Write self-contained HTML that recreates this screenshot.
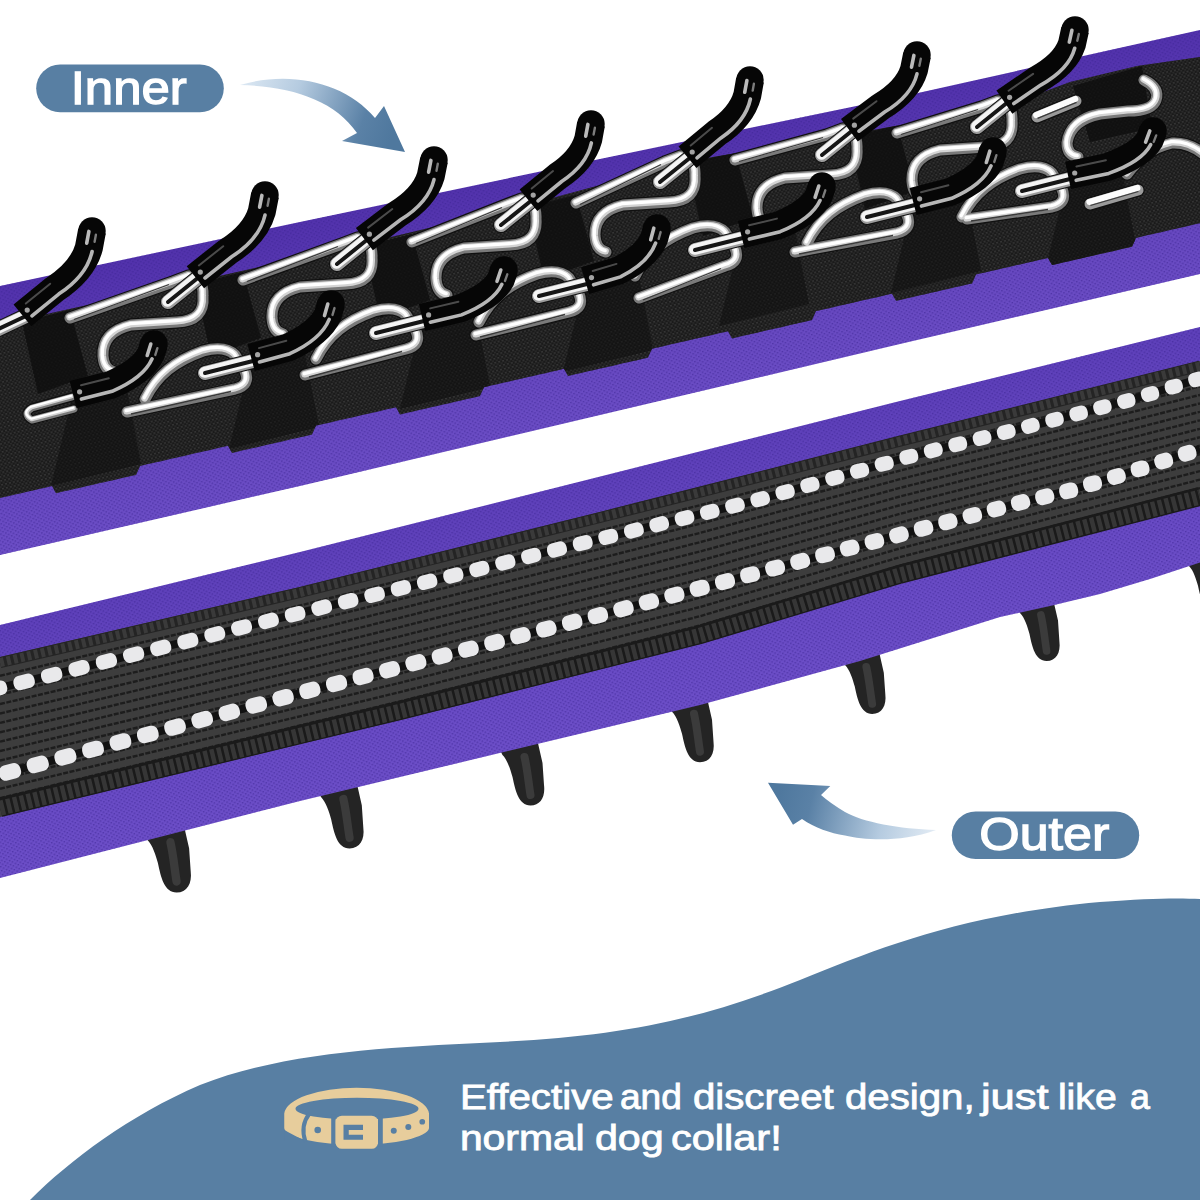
<!DOCTYPE html>
<html><head><meta charset="utf-8"><title>Collar</title>
<style>html,body{margin:0;padding:0;background:#fff;}body{width:1200px;height:1200px;overflow:hidden;}svg{display:block;font-family:"Liberation Sans",sans-serif;}</style>
</head><body>
<svg width="1200" height="1200" viewBox="0 0 1200 1200">
<defs>
<linearGradient id="purpU" gradientUnits="userSpaceOnUse" x1="600" y1="158" x2="656" y2="418"><stop offset="0" stop-color="#5232ac"/><stop offset="0.25" stop-color="#5a3ab4"/><stop offset="0.7" stop-color="#6748c0"/><stop offset="1" stop-color="#6c4ec6"/></linearGradient>
<linearGradient id="purpL" gradientUnits="userSpaceOnUse" x1="600" y1="476" x2="662" y2="729"><stop offset="0" stop-color="#5e40ba"/><stop offset="0.2" stop-color="#6345be"/><stop offset="0.75" stop-color="#6a4cc6"/><stop offset="1" stop-color="#6d4fc8"/></linearGradient>
<pattern id="knit" width="5" height="4" patternUnits="userSpaceOnUse" patternTransform="rotate(-13)"><rect x="0" y="0" width="1.6" height="1.4" fill="#3b2390" opacity="0.55"/><rect x="2.5" y="2" width="1.6" height="1.4" fill="#3b2390" opacity="0.55"/></pattern>
<pattern id="speck" width="4" height="4" patternUnits="userSpaceOnUse" patternTransform="rotate(-13)"><rect x="0" y="0" width="2" height="1.6" fill="#3c3c3c" opacity="0.8"/><rect x="2" y="2" width="2" height="1.6" fill="#303030" opacity="0.8"/></pattern>
<linearGradient id="ar1" gradientUnits="userSpaceOnUse" x1="240" y1="85" x2="390" y2="140"><stop offset="0" stop-color="#dce8f3"/><stop offset="0.35" stop-color="#b5cbe0"/><stop offset="0.8" stop-color="#5a81a6"/><stop offset="1" stop-color="#4f789e"/></linearGradient>
<linearGradient id="ar2" gradientUnits="userSpaceOnUse" x1="940" y1="830" x2="780" y2="790"><stop offset="0" stop-color="#e6eef6"/><stop offset="0.35" stop-color="#b5cbe0"/><stop offset="0.8" stop-color="#5a81a6"/><stop offset="1" stop-color="#4f789e"/></linearGradient>
<clipPath id="ubclip"><polygon points="-20.0,328.0 24.0,319.0 197.0,281.0 366.0,243.0 530.0,204.0 689.0,161.0 851.0,134.0 1006.0,106.0 1070.0,82.0 1137.0,66.0 1200.0,57.0 1200.0,223.2 1196.0,224.1 1192.0,225.0 1188.0,225.9 1184.0,226.9 1180.0,227.8 1176.0,228.7 1172.0,229.6 1168.0,230.5 1164.0,231.4 1160.0,232.4 1156.0,233.3 1152.0,234.2 1148.0,235.1 1144.0,236.0 1140.0,236.9 1136.0,237.9 1132.0,246.8 1128.0,247.7 1124.0,248.6 1120.0,249.5 1116.0,250.4 1112.0,251.4 1108.0,252.3 1104.0,253.2 1100.0,254.1 1096.0,255.0 1092.0,255.9 1088.0,256.8 1084.0,257.8 1080.0,258.7 1076.0,259.6 1072.0,260.5 1068.0,261.4 1064.0,262.3 1060.0,263.3 1056.0,264.2 1052.0,265.1 1048.0,258.0 1044.0,258.9 1040.0,259.8 1036.0,260.8 1032.0,261.7 1028.0,262.6 1024.0,263.5 1020.0,264.4 1016.0,265.3 1012.0,266.3 1008.0,267.2 1004.0,268.1 1000.0,269.0 996.0,269.9 992.0,270.8 988.0,271.7 984.0,272.7 980.0,273.6 976.0,274.5 972.0,283.4 968.0,284.3 964.0,285.2 960.0,286.2 956.0,287.1 952.0,288.0 948.0,288.9 944.0,289.8 940.0,290.7 936.0,291.7 932.0,292.6 928.0,293.5 924.0,294.4 920.0,295.3 916.0,296.2 912.0,297.2 908.0,298.1 904.0,299.0 900.0,299.9 896.0,300.8 892.0,293.7 888.0,294.6 884.0,295.6 880.0,296.5 876.0,297.4 872.0,298.3 868.0,299.2 864.0,300.1 860.0,301.1 856.0,302.0 852.0,302.9 848.0,303.8 844.0,304.7 840.0,305.6 836.0,306.6 832.0,307.5 828.0,308.4 824.0,309.3 820.0,310.2 816.0,311.1 812.0,320.1 808.0,321.0 804.0,321.9 800.0,322.8 796.0,323.7 792.0,324.6 788.0,325.5 784.0,326.5 780.0,327.4 776.0,328.3 772.0,329.2 768.0,330.1 764.0,331.0 760.0,332.0 756.0,332.9 752.0,333.8 748.0,334.7 744.0,335.6 740.0,336.5 736.0,337.5 732.0,338.4 728.0,331.3 724.0,332.2 720.0,333.1 716.0,334.0 712.0,335.0 708.0,335.9 704.0,336.8 700.0,337.7 696.0,338.6 692.0,339.5 688.0,340.4 684.0,341.4 680.0,342.3 676.0,343.2 672.0,344.1 668.0,345.0 664.0,345.9 660.0,346.9 656.0,347.8 652.0,348.7 648.0,357.6 644.0,358.5 640.0,359.4 636.0,360.4 632.0,361.3 628.0,362.2 624.0,363.1 620.0,364.0 616.0,364.9 612.0,365.9 608.0,366.8 604.0,367.7 600.0,368.6 596.0,369.5 592.0,370.4 588.0,371.3 584.0,372.3 580.0,373.2 576.0,374.1 572.0,375.0 568.0,375.9 564.0,368.8 560.0,369.8 556.0,370.7 552.0,371.6 548.0,372.5 544.0,373.4 540.0,374.3 536.0,375.3 532.0,376.2 528.0,377.1 524.0,378.0 520.0,378.9 516.0,379.8 512.0,380.8 508.0,381.7 504.0,382.6 500.0,383.5 496.0,384.4 492.0,385.3 488.0,386.2 484.0,387.2 480.0,396.1 476.0,397.0 472.0,397.9 468.0,398.8 464.0,399.7 460.0,400.7 456.0,401.6 452.0,402.5 448.0,403.4 444.0,404.3 440.0,405.2 436.0,406.2 432.0,407.1 428.0,408.0 424.0,408.9 420.0,409.8 416.0,410.7 412.0,411.7 408.0,412.6 404.0,413.5 400.0,414.4 396.0,407.3 392.0,408.2 388.0,409.1 384.0,410.1 380.0,411.0 376.0,411.9 372.0,412.8 368.0,413.7 364.0,414.6 360.0,415.6 356.0,416.5 352.0,417.4 348.0,418.3 344.0,419.2 340.0,420.1 336.0,421.1 332.0,422.0 328.0,422.9 324.0,423.8 320.0,424.7 316.0,425.6 312.0,434.6 308.0,435.5 304.0,436.4 300.0,437.3 296.0,438.2 292.0,439.1 288.0,440.0 284.0,441.0 280.0,441.9 276.0,442.8 272.0,443.7 268.0,444.6 264.0,445.5 260.0,446.5 256.0,447.4 252.0,448.3 248.0,449.2 244.0,450.1 240.0,451.0 236.0,452.0 232.0,452.9 228.0,445.8 224.0,446.7 220.0,447.6 216.0,448.5 212.0,449.5 208.0,450.4 204.0,451.3 200.0,452.2 196.0,453.1 192.0,454.0 188.0,454.9 184.0,455.9 180.0,456.8 176.0,457.7 172.0,458.6 168.0,459.5 164.0,460.4 160.0,461.4 156.0,462.3 152.0,463.2 148.0,464.1 144.0,465.0 140.0,465.9 136.0,474.9 132.0,475.8 128.0,476.7 124.0,477.6 120.0,478.5 116.0,479.4 112.0,480.4 108.0,481.3 104.0,482.2 100.0,483.1 96.0,484.0 92.0,484.9 88.0,485.8 84.0,486.8 80.0,487.7 76.0,488.6 72.0,489.5 68.0,490.4 64.0,491.3 60.0,492.3 56.0,493.2 52.0,486.1 48.0,487.0 44.0,487.9 40.0,488.8 36.0,489.8 32.0,490.7 28.0,491.6 24.0,492.5 20.0,493.4 16.0,494.3 12.0,495.3 8.0,496.2 4.0,497.1 0.0,498.0"/></clipPath></defs>
<rect width="1200" height="1200" fill="#fff"/>
<path d="M30,1200 C70,1160 130,1115 200,1085 C290,1050 400,1047 500,1042 C620,1036 700,1020 800,980 C880,948 960,915 1100,902 C1150,898 1180,898 1200,899 L1200,1200 Z" fill="#587fa3"/>
<path d="M144.4,833.8 L147.5,840.0 C152.7,845.2 155.8,855.6 157.9,862.9 C161.0,877.4 164.1,892.0 176.6,892.5 C187.0,892.5 192.2,883.7 190.7,871.2 L189.1,848.3 L183.9,825.4 Z" fill="#242424"/>
<path d="M170.4,842.1 C173.5,855.6 174.5,869.1 176.6,881.6" fill="none" stroke="#3b3b3b" stroke-width="8.3" stroke-linecap="round"/>
<path d="M317.9,790.9 L321.0,797.0 C326.1,802.1 329.2,812.3 331.2,819.4 C334.3,833.7 337.3,848.0 349.6,848.5 C359.8,848.5 364.9,839.8 363.3,827.6 L361.8,805.2 L356.7,782.7 Z" fill="#242424"/>
<path d="M343.4,799.0 C346.5,812.3 347.5,825.6 349.6,837.8" fill="none" stroke="#3b3b3b" stroke-width="8.2" stroke-linecap="round"/>
<path d="M499.5,749.0 L502.5,755.0 C507.5,760.0 510.5,770.0 512.5,777.0 C515.5,791.0 518.5,805.0 530.5,805.5 C540.5,805.5 545.5,797.0 544.0,785.0 L542.5,763.0 L537.5,741.0 Z" fill="#242424"/>
<path d="M524.5,757.0 C527.5,770.0 528.5,783.0 530.5,795.0" fill="none" stroke="#3b3b3b" stroke-width="8.0" stroke-linecap="round"/>
<path d="M669.0,705.7 L672.0,711.7 C677.0,716.7 680.0,726.7 682.0,733.7 C685.0,747.7 688.0,761.7 700.0,762.2 C710.0,762.2 715.0,753.7 713.5,741.7 L712.0,719.7 L707.0,697.7 Z" fill="#242424"/>
<path d="M694.0,713.7 C697.0,726.7 698.0,739.7 700.0,751.7" fill="none" stroke="#3b3b3b" stroke-width="8.0" stroke-linecap="round"/>
<path d="M842.1,659.2 L845.0,665.0 C849.9,669.9 852.8,679.5 854.7,686.3 C857.6,699.9 860.5,713.5 872.2,714.0 C881.9,714.0 886.7,705.7 885.3,694.1 L883.8,672.8 L879.0,651.4 Z" fill="#242424"/>
<path d="M866.3,666.9 C869.2,679.5 870.2,692.2 872.2,703.8" fill="none" stroke="#3b3b3b" stroke-width="7.8" stroke-linecap="round"/>
<path d="M1017.1,607.3 L1020.0,613.0 C1024.8,617.8 1027.6,627.2 1029.5,633.9 C1032.3,647.2 1035.2,660.5 1046.6,661.0 C1056.1,661.0 1060.8,652.9 1059.4,641.5 L1058.0,620.6 L1053.2,599.7 Z" fill="#242424"/>
<path d="M1040.9,614.9 C1043.8,627.2 1044.7,639.6 1046.6,651.0" fill="none" stroke="#3b3b3b" stroke-width="7.6" stroke-linecap="round"/>
<path d="M1186.3,560.6 L1189.0,566.0 C1193.5,570.5 1196.2,579.5 1198.0,585.8 C1200.7,598.4 1203.4,611.0 1214.2,611.5 C1223.2,611.5 1227.7,603.8 1226.3,593.0 L1225.0,573.2 L1220.5,553.4 Z" fill="#242424"/>
<path d="M1208.8,567.8 C1211.5,579.5 1212.4,591.2 1214.2,602.0" fill="none" stroke="#3b3b3b" stroke-width="7.2" stroke-linecap="round"/>
<polygon points="0.0,625.0 300.0,552.0 507.0,500.0 900.0,401.0 1200.0,327.0 1200.0,562.5 1150.0,579.0 1100.0,594.0 1050.0,606.0 1000.0,617.0 860.0,661.0 700.0,705.0 400.0,777.0 300.0,801.0 0.0,878.0" fill="url(#purpL)"/>
<polygon points="0.0,625.0 300.0,552.0 507.0,500.0 900.0,401.0 1200.0,327.0 1200.0,562.5 1150.0,579.0 1100.0,594.0 1050.0,606.0 1000.0,617.0 860.0,661.0 700.0,705.0 400.0,777.0 300.0,801.0 0.0,878.0" fill="url(#knit)"/>
<polygon points="0.0,657.0 300.0,587.0 600.0,512.0 900.0,436.0 1200.0,361.0 1200.0,505.0 900.0,583.0 700.0,644.0 400.0,720.0 300.0,744.0 0.0,817.0" fill="#3d3d3d"/>
<polyline points="0.0,675.8 300.0,605.5 400.0,580.6 600.0,530.5 700.0,505.2 900.0,453.3 1200.0,377.9" fill="none" stroke="#1d1d1d" stroke-width="2.4" stroke-dasharray="5 1.5"/>
<polyline points="0.0,685.2 300.0,614.7 400.0,589.9 600.0,539.8 700.0,514.4 900.0,461.9 1200.0,386.4" fill="none" stroke="#1d1d1d" stroke-width="2.4" stroke-dasharray="5 1.5"/>
<polyline points="0.0,694.6 300.0,623.9 400.0,599.2 600.0,549.0 700.0,523.7 900.0,470.6 1200.0,394.9" fill="none" stroke="#1d1d1d" stroke-width="2.4" stroke-dasharray="5 1.5"/>
<polyline points="0.0,704.1 300.0,633.2 400.0,608.5 600.0,558.3 700.0,532.9 900.0,479.2 1200.0,403.4" fill="none" stroke="#1d1d1d" stroke-width="2.4" stroke-dasharray="5 1.5"/>
<polyline points="0.0,713.5 300.0,642.4 400.0,617.8 600.0,567.5 700.0,542.2 900.0,487.9 1200.0,411.8" fill="none" stroke="#1d1d1d" stroke-width="2.4" stroke-dasharray="5 1.5"/>
<polyline points="0.0,722.9 300.0,651.6 400.0,627.1 600.0,576.8 700.0,551.5 900.0,496.5 1200.0,420.3" fill="none" stroke="#1d1d1d" stroke-width="2.4" stroke-dasharray="5 1.5"/>
<polyline points="0.0,732.3 300.0,660.9 400.0,636.4 600.0,586.0 700.0,560.7 900.0,505.2 1200.0,428.8" fill="none" stroke="#1d1d1d" stroke-width="2.4" stroke-dasharray="5 1.5"/>
<polyline points="0.0,741.7 300.0,670.1 400.0,645.6 600.0,595.3 700.0,570.0 900.0,513.8 1200.0,437.2" fill="none" stroke="#1d1d1d" stroke-width="2.4" stroke-dasharray="5 1.5"/>
<polyline points="0.0,751.1 300.0,679.4 400.0,654.9 600.0,604.5 700.0,579.2 900.0,522.5 1200.0,445.7" fill="none" stroke="#1d1d1d" stroke-width="2.4" stroke-dasharray="5 1.5"/>
<polyline points="0.0,760.5 300.0,688.6 400.0,664.2 600.0,613.8 700.0,588.5 900.0,531.1 1200.0,454.2" fill="none" stroke="#1d1d1d" stroke-width="2.4" stroke-dasharray="5 1.5"/>
<polyline points="0.0,769.9 300.0,697.8 400.0,673.5 600.0,623.1 700.0,597.7 900.0,539.8 1200.0,462.6" fill="none" stroke="#1d1d1d" stroke-width="2.4" stroke-dasharray="5 1.5"/>
<polyline points="0.0,779.4 300.0,707.1 400.0,682.8 600.0,632.3 700.0,607.0 900.0,548.4 1200.0,471.1" fill="none" stroke="#1d1d1d" stroke-width="2.4" stroke-dasharray="5 1.5"/>
<polyline points="0.0,788.8 300.0,716.3 400.0,692.1 600.0,641.6 700.0,616.2 900.0,557.1 1200.0,479.6" fill="none" stroke="#1d1d1d" stroke-width="2.4" stroke-dasharray="5 1.5"/>
<polyline points="0.0,798.2 300.0,725.5 400.0,701.4 600.0,650.8 700.0,625.5 900.0,565.7 1200.0,488.1" fill="none" stroke="#1d1d1d" stroke-width="2.4" stroke-dasharray="5 1.5"/>
<polyline points="0.0,662.6 300.0,592.5 400.0,567.5 600.0,517.5 700.0,492.2 900.0,441.1 1200.0,366.0" fill="none" stroke="#242424" stroke-width="11"/>
<polyline points="0.0,662.6 300.0,592.5 400.0,567.5 600.0,517.5 700.0,492.2 900.0,441.1 1200.0,366.0" fill="none" stroke="#3a3a3a" stroke-width="9" stroke-dasharray="4 3"/>
<polyline points="0.0,807.4 300.0,734.6 400.0,710.5 600.0,659.9 700.0,634.6 900.0,574.2 1200.0,496.4" fill="none" stroke="#1a1a1a" stroke-width="19"/>
<polyline points="0.0,808.2 300.0,735.4 400.0,711.3 600.0,660.7 700.0,635.3 900.0,574.9 1200.0,497.1" fill="none" stroke="#363636" stroke-width="15" stroke-dasharray="4.5 2.5"/>
<polyline points="-4.0,689.0 24.0,682.0 300.0,613.0 455.0,575.0 579.0,544.0 750.0,502.0 915.0,455.0 1034.0,425.0 1132.0,399.5 1200.0,378.5" fill="none" stroke="#121212" stroke-width="8"/>
<polyline points="10.0,772.0 315.0,689.0 600.0,615.0 921.0,529.0 1019.0,503.0 1068.0,491.0 1118.0,476.0 1167.0,460.0 1200.0,449.0" fill="none" stroke="#121212" stroke-width="8"/>
<rect x="-14.3" y="681.6" width="21.5" height="14.5" rx="6.1" fill="#e9e9eb" transform="rotate(-14.5 -3.5 688.9)"/>
<rect x="13.4" y="674.7" width="21.4" height="14.5" rx="6.1" fill="#e9e9eb" transform="rotate(-14.5 24.1 682.0)"/>
<rect x="41.0" y="667.8" width="21.3" height="14.5" rx="6.1" fill="#e9e9eb" transform="rotate(-14.5 51.6 675.1)"/>
<rect x="68.4" y="661.0" width="21.3" height="14.5" rx="6.1" fill="#e9e9eb" transform="rotate(-14.5 79.1 668.2)"/>
<rect x="95.8" y="654.2" width="21.2" height="14.5" rx="6.1" fill="#e9e9eb" transform="rotate(-14.5 106.4 661.4)"/>
<rect x="123.1" y="647.3" width="21.1" height="14.5" rx="6.1" fill="#e9e9eb" transform="rotate(-14.5 133.6 654.6)"/>
<rect x="150.2" y="640.6" width="21.0" height="14.5" rx="6.1" fill="#e9e9eb" transform="rotate(-14.5 160.8 647.8)"/>
<rect x="177.3" y="633.8" width="21.0" height="14.5" rx="6.1" fill="#e9e9eb" transform="rotate(-14.5 187.8 641.0)"/>
<rect x="204.3" y="627.1" width="20.9" height="14.5" rx="6.1" fill="#e9e9eb" transform="rotate(-14.5 214.8 634.3)"/>
<rect x="231.2" y="620.3" width="20.8" height="14.5" rx="6.1" fill="#e9e9eb" transform="rotate(-14.5 241.6 627.6)"/>
<rect x="258.1" y="613.6" width="20.7" height="14.5" rx="6.1" fill="#e9e9eb" transform="rotate(-14.5 268.4 620.9)"/>
<rect x="284.8" y="607.0" width="20.6" height="14.5" rx="6.1" fill="#e9e9eb" transform="rotate(-14.5 295.1 614.2)"/>
<rect x="311.4" y="600.4" width="20.6" height="14.5" rx="6.1" fill="#e9e9eb" transform="rotate(-14.5 321.7 607.7)"/>
<rect x="337.9" y="593.9" width="20.5" height="14.5" rx="6.1" fill="#e9e9eb" transform="rotate(-14.5 348.2 601.2)"/>
<rect x="364.4" y="587.5" width="20.4" height="14.5" rx="6.1" fill="#e9e9eb" transform="rotate(-14.5 374.6 594.7)"/>
<rect x="390.8" y="581.0" width="20.3" height="14.5" rx="6.1" fill="#e9e9eb" transform="rotate(-14.5 400.9 588.3)"/>
<rect x="417.0" y="574.6" width="20.3" height="14.5" rx="6.1" fill="#e9e9eb" transform="rotate(-14.5 427.1 581.8)"/>
<rect x="443.2" y="568.2" width="20.2" height="14.5" rx="6.1" fill="#e9e9eb" transform="rotate(-14.5 453.3 575.4)"/>
<rect x="469.3" y="561.7" width="20.1" height="14.5" rx="6.1" fill="#e9e9eb" transform="rotate(-14.5 479.3 568.9)"/>
<rect x="495.3" y="555.2" width="20.0" height="14.5" rx="6.1" fill="#e9e9eb" transform="rotate(-14.5 505.3 562.4)"/>
<rect x="521.2" y="548.7" width="20.0" height="14.5" rx="6.1" fill="#e9e9eb" transform="rotate(-14.5 531.2 556.0)"/>
<rect x="547.0" y="542.3" width="19.9" height="14.5" rx="6.1" fill="#e9e9eb" transform="rotate(-14.5 557.0 549.5)"/>
<rect x="572.8" y="535.9" width="19.8" height="14.5" rx="6.1" fill="#e9e9eb" transform="rotate(-14.5 582.7 543.1)"/>
<rect x="598.4" y="529.6" width="19.7" height="14.5" rx="6.1" fill="#e9e9eb" transform="rotate(-14.5 608.3 536.8)"/>
<rect x="624.0" y="523.3" width="19.7" height="14.5" rx="6.1" fill="#e9e9eb" transform="rotate(-14.5 633.8 530.5)"/>
<rect x="649.4" y="517.0" width="19.6" height="14.5" rx="6.1" fill="#e9e9eb" transform="rotate(-14.5 659.2 524.3)"/>
<rect x="674.8" y="510.8" width="19.5" height="14.5" rx="6.1" fill="#e9e9eb" transform="rotate(-14.5 684.6 518.1)"/>
<rect x="700.1" y="504.6" width="19.4" height="14.5" rx="6.1" fill="#e9e9eb" transform="rotate(-14.5 709.8 511.9)"/>
<rect x="725.3" y="498.4" width="19.4" height="14.5" rx="6.1" fill="#e9e9eb" transform="rotate(-14.5 735.0 505.7)"/>
<rect x="750.5" y="491.9" width="19.3" height="14.5" rx="6.1" fill="#e9e9eb" transform="rotate(-14.5 760.1 499.1)"/>
<rect x="775.5" y="484.8" width="19.2" height="14.5" rx="6.1" fill="#e9e9eb" transform="rotate(-14.5 785.1 492.0)"/>
<rect x="800.4" y="477.7" width="19.1" height="14.5" rx="6.1" fill="#e9e9eb" transform="rotate(-14.5 810.0 484.9)"/>
<rect x="825.3" y="470.6" width="19.1" height="14.5" rx="6.1" fill="#e9e9eb" transform="rotate(-14.5 834.8 477.8)"/>
<rect x="850.1" y="463.5" width="19.0" height="14.5" rx="6.1" fill="#e9e9eb" transform="rotate(-14.5 859.6 470.8)"/>
<rect x="874.8" y="456.5" width="18.9" height="14.5" rx="6.1" fill="#e9e9eb" transform="rotate(-14.5 884.3 463.8)"/>
<rect x="899.4" y="449.5" width="18.8" height="14.5" rx="6.1" fill="#e9e9eb" transform="rotate(-14.5 908.8 456.8)"/>
<rect x="923.9" y="443.1" width="18.8" height="14.5" rx="6.1" fill="#e9e9eb" transform="rotate(-14.5 933.3 450.4)"/>
<rect x="948.4" y="437.0" width="18.7" height="14.5" rx="6.1" fill="#e9e9eb" transform="rotate(-14.5 957.7 444.2)"/>
<rect x="972.8" y="430.8" width="18.6" height="14.5" rx="6.1" fill="#e9e9eb" transform="rotate(-14.5 982.1 438.1)"/>
<rect x="997.0" y="424.7" width="18.6" height="14.5" rx="6.1" fill="#e9e9eb" transform="rotate(-14.5 1006.3 432.0)"/>
<rect x="1021.2" y="418.6" width="18.5" height="14.5" rx="6.1" fill="#e9e9eb" transform="rotate(-14.5 1030.5 425.9)"/>
<rect x="1045.3" y="412.4" width="18.4" height="14.5" rx="6.1" fill="#e9e9eb" transform="rotate(-14.5 1054.6 419.7)"/>
<rect x="1069.4" y="406.2" width="18.4" height="14.5" rx="6.1" fill="#e9e9eb" transform="rotate(-14.5 1078.6 413.4)"/>
<rect x="1093.3" y="399.9" width="18.3" height="14.5" rx="6.1" fill="#e9e9eb" transform="rotate(-14.5 1102.5 407.2)"/>
<rect x="1117.2" y="393.7" width="18.2" height="14.5" rx="6.1" fill="#e9e9eb" transform="rotate(-14.5 1126.3 401.0)"/>
<rect x="1141.0" y="386.7" width="18.1" height="14.5" rx="6.1" fill="#e9e9eb" transform="rotate(-14.5 1150.1 393.9)"/>
<rect x="1164.7" y="379.4" width="18.1" height="14.5" rx="6.1" fill="#e9e9eb" transform="rotate(-14.5 1173.7 386.6)"/>
<rect x="1188.3" y="372.1" width="18.0" height="14.5" rx="6.1" fill="#e9e9eb" transform="rotate(-14.5 1197.3 379.3)"/>
<rect x="-1.0" y="764.2" width="22.0" height="15.5" rx="6.5" fill="#e9e9eb" transform="rotate(-14.5 10.0 772.0)"/>
<rect x="26.8" y="756.7" width="21.9" height="15.5" rx="6.5" fill="#e9e9eb" transform="rotate(-14.5 37.8 764.4)"/>
<rect x="54.5" y="749.2" width="21.8" height="15.5" rx="6.5" fill="#e9e9eb" transform="rotate(-14.5 65.4 756.9)"/>
<rect x="82.1" y="741.7" width="21.7" height="15.5" rx="6.5" fill="#e9e9eb" transform="rotate(-14.5 93.0 749.4)"/>
<rect x="109.6" y="734.2" width="21.6" height="15.5" rx="6.5" fill="#e9e9eb" transform="rotate(-14.5 120.4 741.9)"/>
<rect x="137.0" y="726.7" width="21.6" height="15.5" rx="6.5" fill="#e9e9eb" transform="rotate(-14.5 147.8 734.5)"/>
<rect x="164.3" y="719.3" width="21.5" height="15.5" rx="6.5" fill="#e9e9eb" transform="rotate(-14.5 175.1 727.1)"/>
<rect x="191.5" y="711.9" width="21.4" height="15.5" rx="6.5" fill="#e9e9eb" transform="rotate(-14.5 202.2 719.7)"/>
<rect x="218.6" y="704.6" width="21.3" height="15.5" rx="6.5" fill="#e9e9eb" transform="rotate(-14.5 229.3 712.3)"/>
<rect x="245.6" y="697.2" width="21.3" height="15.5" rx="6.5" fill="#e9e9eb" transform="rotate(-14.5 256.2 705.0)"/>
<rect x="272.5" y="689.9" width="21.2" height="15.5" rx="6.5" fill="#e9e9eb" transform="rotate(-14.5 283.1 697.7)"/>
<rect x="299.3" y="682.6" width="21.1" height="15.5" rx="6.5" fill="#e9e9eb" transform="rotate(-14.5 309.9 690.4)"/>
<rect x="326.0" y="675.7" width="21.0" height="15.5" rx="6.5" fill="#e9e9eb" transform="rotate(-14.5 336.5 683.4)"/>
<rect x="352.6" y="668.8" width="20.9" height="15.5" rx="6.5" fill="#e9e9eb" transform="rotate(-14.5 363.1 676.5)"/>
<rect x="379.1" y="661.9" width="20.9" height="15.5" rx="6.5" fill="#e9e9eb" transform="rotate(-14.5 389.6 669.6)"/>
<rect x="405.5" y="655.0" width="20.8" height="15.5" rx="6.5" fill="#e9e9eb" transform="rotate(-14.5 415.9 662.8)"/>
<rect x="431.8" y="648.2" width="20.7" height="15.5" rx="6.5" fill="#e9e9eb" transform="rotate(-14.5 442.2 656.0)"/>
<rect x="458.1" y="641.4" width="20.6" height="15.5" rx="6.5" fill="#e9e9eb" transform="rotate(-14.5 468.4 649.2)"/>
<rect x="484.2" y="634.7" width="20.6" height="15.5" rx="6.5" fill="#e9e9eb" transform="rotate(-14.5 494.5 642.4)"/>
<rect x="510.2" y="627.9" width="20.5" height="15.5" rx="6.5" fill="#e9e9eb" transform="rotate(-14.5 520.5 635.7)"/>
<rect x="536.1" y="621.2" width="20.4" height="15.5" rx="6.5" fill="#e9e9eb" transform="rotate(-14.5 546.3 628.9)"/>
<rect x="562.0" y="614.5" width="20.3" height="15.5" rx="6.5" fill="#e9e9eb" transform="rotate(-14.5 572.1 622.2)"/>
<rect x="587.7" y="607.8" width="20.3" height="15.5" rx="6.5" fill="#e9e9eb" transform="rotate(-14.5 597.8 615.6)"/>
<rect x="613.4" y="601.0" width="20.2" height="15.5" rx="6.5" fill="#e9e9eb" transform="rotate(-14.5 623.5 608.7)"/>
<rect x="638.9" y="594.1" width="20.1" height="15.5" rx="6.5" fill="#e9e9eb" transform="rotate(-14.5 649.0 601.9)"/>
<rect x="664.4" y="587.3" width="20.0" height="15.5" rx="6.5" fill="#e9e9eb" transform="rotate(-14.5 674.4 595.1)"/>
<rect x="689.7" y="580.5" width="20.0" height="15.5" rx="6.5" fill="#e9e9eb" transform="rotate(-14.5 699.7 588.3)"/>
<rect x="715.0" y="573.8" width="19.9" height="15.5" rx="6.5" fill="#e9e9eb" transform="rotate(-14.5 724.9 581.5)"/>
<rect x="740.2" y="567.0" width="19.8" height="15.5" rx="6.5" fill="#e9e9eb" transform="rotate(-14.5 750.1 574.8)"/>
<rect x="765.3" y="560.3" width="19.7" height="15.5" rx="6.5" fill="#e9e9eb" transform="rotate(-14.5 775.1 568.1)"/>
<rect x="790.3" y="553.6" width="19.7" height="15.5" rx="6.5" fill="#e9e9eb" transform="rotate(-14.5 800.1 561.4)"/>
<rect x="815.2" y="547.0" width="19.6" height="15.5" rx="6.5" fill="#e9e9eb" transform="rotate(-14.5 825.0 554.7)"/>
<rect x="840.0" y="540.3" width="19.5" height="15.5" rx="6.5" fill="#e9e9eb" transform="rotate(-14.5 849.7 548.1)"/>
<rect x="864.7" y="533.7" width="19.4" height="15.5" rx="6.5" fill="#e9e9eb" transform="rotate(-14.5 874.4 541.5)"/>
<rect x="889.3" y="527.1" width="19.4" height="15.5" rx="6.5" fill="#e9e9eb" transform="rotate(-14.5 899.0 534.9)"/>
<rect x="913.9" y="520.6" width="19.3" height="15.5" rx="6.5" fill="#e9e9eb" transform="rotate(-14.5 923.5 528.3)"/>
<rect x="938.3" y="514.1" width="19.2" height="15.5" rx="6.5" fill="#e9e9eb" transform="rotate(-14.5 947.9 521.9)"/>
<rect x="962.7" y="507.7" width="19.2" height="15.5" rx="6.5" fill="#e9e9eb" transform="rotate(-14.5 972.3 515.4)"/>
<rect x="986.9" y="501.2" width="19.1" height="15.5" rx="6.5" fill="#e9e9eb" transform="rotate(-14.5 996.5 509.0)"/>
<rect x="1011.1" y="494.8" width="19.0" height="15.5" rx="6.5" fill="#e9e9eb" transform="rotate(-14.5 1020.6 502.6)"/>
<rect x="1035.2" y="489.0" width="19.0" height="15.5" rx="6.5" fill="#e9e9eb" transform="rotate(-14.5 1044.7 496.7)"/>
<rect x="1059.2" y="483.1" width="18.9" height="15.5" rx="6.5" fill="#e9e9eb" transform="rotate(-14.5 1068.7 490.8)"/>
<rect x="1083.1" y="475.9" width="18.8" height="15.5" rx="6.5" fill="#e9e9eb" transform="rotate(-14.5 1092.5 483.6)"/>
<rect x="1107.0" y="468.7" width="18.7" height="15.5" rx="6.5" fill="#e9e9eb" transform="rotate(-14.5 1116.3 476.5)"/>
<rect x="1130.7" y="461.1" width="18.7" height="15.5" rx="6.5" fill="#e9e9eb" transform="rotate(-14.5 1140.0 468.8)"/>
<rect x="1154.4" y="453.3" width="18.6" height="15.5" rx="6.5" fill="#e9e9eb" transform="rotate(-14.5 1163.7 461.1)"/>
<rect x="1177.9" y="445.5" width="18.5" height="15.5" rx="6.5" fill="#e9e9eb" transform="rotate(-14.5 1187.2 453.3)"/>
<rect x="1201.4" y="437.7" width="18.5" height="15.5" rx="6.5" fill="#e9e9eb" transform="rotate(-14.5 1210.6 445.5)"/>
<polygon points="0.0,286.0 300.0,222.0 600.0,159.0 900.0,97.0 1200.0,30.0 1200.0,274.0 900.0,344.0 300.0,486.0 0.0,555.0" fill="url(#purpU)"/>
<polygon points="0.0,286.0 300.0,222.0 600.0,159.0 900.0,97.0 1200.0,30.0 1200.0,274.0 900.0,344.0 300.0,486.0 0.0,555.0" fill="url(#knit)"/>
<polygon points="-20.0,328.0 24.0,319.0 197.0,281.0 366.0,243.0 530.0,204.0 689.0,161.0 851.0,134.0 1006.0,106.0 1070.0,82.0 1137.0,66.0 1200.0,57.0 1200.0,223.2 1196.0,224.1 1192.0,225.0 1188.0,225.9 1184.0,226.9 1180.0,227.8 1176.0,228.7 1172.0,229.6 1168.0,230.5 1164.0,231.4 1160.0,232.4 1156.0,233.3 1152.0,234.2 1148.0,235.1 1144.0,236.0 1140.0,236.9 1136.0,237.9 1132.0,246.8 1128.0,247.7 1124.0,248.6 1120.0,249.5 1116.0,250.4 1112.0,251.4 1108.0,252.3 1104.0,253.2 1100.0,254.1 1096.0,255.0 1092.0,255.9 1088.0,256.8 1084.0,257.8 1080.0,258.7 1076.0,259.6 1072.0,260.5 1068.0,261.4 1064.0,262.3 1060.0,263.3 1056.0,264.2 1052.0,265.1 1048.0,258.0 1044.0,258.9 1040.0,259.8 1036.0,260.8 1032.0,261.7 1028.0,262.6 1024.0,263.5 1020.0,264.4 1016.0,265.3 1012.0,266.3 1008.0,267.2 1004.0,268.1 1000.0,269.0 996.0,269.9 992.0,270.8 988.0,271.7 984.0,272.7 980.0,273.6 976.0,274.5 972.0,283.4 968.0,284.3 964.0,285.2 960.0,286.2 956.0,287.1 952.0,288.0 948.0,288.9 944.0,289.8 940.0,290.7 936.0,291.7 932.0,292.6 928.0,293.5 924.0,294.4 920.0,295.3 916.0,296.2 912.0,297.2 908.0,298.1 904.0,299.0 900.0,299.9 896.0,300.8 892.0,293.7 888.0,294.6 884.0,295.6 880.0,296.5 876.0,297.4 872.0,298.3 868.0,299.2 864.0,300.1 860.0,301.1 856.0,302.0 852.0,302.9 848.0,303.8 844.0,304.7 840.0,305.6 836.0,306.6 832.0,307.5 828.0,308.4 824.0,309.3 820.0,310.2 816.0,311.1 812.0,320.1 808.0,321.0 804.0,321.9 800.0,322.8 796.0,323.7 792.0,324.6 788.0,325.5 784.0,326.5 780.0,327.4 776.0,328.3 772.0,329.2 768.0,330.1 764.0,331.0 760.0,332.0 756.0,332.9 752.0,333.8 748.0,334.7 744.0,335.6 740.0,336.5 736.0,337.5 732.0,338.4 728.0,331.3 724.0,332.2 720.0,333.1 716.0,334.0 712.0,335.0 708.0,335.9 704.0,336.8 700.0,337.7 696.0,338.6 692.0,339.5 688.0,340.4 684.0,341.4 680.0,342.3 676.0,343.2 672.0,344.1 668.0,345.0 664.0,345.9 660.0,346.9 656.0,347.8 652.0,348.7 648.0,357.6 644.0,358.5 640.0,359.4 636.0,360.4 632.0,361.3 628.0,362.2 624.0,363.1 620.0,364.0 616.0,364.9 612.0,365.9 608.0,366.8 604.0,367.7 600.0,368.6 596.0,369.5 592.0,370.4 588.0,371.3 584.0,372.3 580.0,373.2 576.0,374.1 572.0,375.0 568.0,375.9 564.0,368.8 560.0,369.8 556.0,370.7 552.0,371.6 548.0,372.5 544.0,373.4 540.0,374.3 536.0,375.3 532.0,376.2 528.0,377.1 524.0,378.0 520.0,378.9 516.0,379.8 512.0,380.8 508.0,381.7 504.0,382.6 500.0,383.5 496.0,384.4 492.0,385.3 488.0,386.2 484.0,387.2 480.0,396.1 476.0,397.0 472.0,397.9 468.0,398.8 464.0,399.7 460.0,400.7 456.0,401.6 452.0,402.5 448.0,403.4 444.0,404.3 440.0,405.2 436.0,406.2 432.0,407.1 428.0,408.0 424.0,408.9 420.0,409.8 416.0,410.7 412.0,411.7 408.0,412.6 404.0,413.5 400.0,414.4 396.0,407.3 392.0,408.2 388.0,409.1 384.0,410.1 380.0,411.0 376.0,411.9 372.0,412.8 368.0,413.7 364.0,414.6 360.0,415.6 356.0,416.5 352.0,417.4 348.0,418.3 344.0,419.2 340.0,420.1 336.0,421.1 332.0,422.0 328.0,422.9 324.0,423.8 320.0,424.7 316.0,425.6 312.0,434.6 308.0,435.5 304.0,436.4 300.0,437.3 296.0,438.2 292.0,439.1 288.0,440.0 284.0,441.0 280.0,441.9 276.0,442.8 272.0,443.7 268.0,444.6 264.0,445.5 260.0,446.5 256.0,447.4 252.0,448.3 248.0,449.2 244.0,450.1 240.0,451.0 236.0,452.0 232.0,452.9 228.0,445.8 224.0,446.7 220.0,447.6 216.0,448.5 212.0,449.5 208.0,450.4 204.0,451.3 200.0,452.2 196.0,453.1 192.0,454.0 188.0,454.9 184.0,455.9 180.0,456.8 176.0,457.7 172.0,458.6 168.0,459.5 164.0,460.4 160.0,461.4 156.0,462.3 152.0,463.2 148.0,464.1 144.0,465.0 140.0,465.9 136.0,474.9 132.0,475.8 128.0,476.7 124.0,477.6 120.0,478.5 116.0,479.4 112.0,480.4 108.0,481.3 104.0,482.2 100.0,483.1 96.0,484.0 92.0,484.9 88.0,485.8 84.0,486.8 80.0,487.7 76.0,488.6 72.0,489.5 68.0,490.4 64.0,491.3 60.0,492.3 56.0,493.2 52.0,486.1 48.0,487.0 44.0,487.9 40.0,488.8 36.0,489.8 32.0,490.7 28.0,491.6 24.0,492.5 20.0,493.4 16.0,494.3 12.0,495.3 8.0,496.2 4.0,497.1 0.0,498.0" fill="#1a1a1a"/>
<polygon points="-20.0,328.0 24.0,319.0 197.0,281.0 366.0,243.0 530.0,204.0 689.0,161.0 851.0,134.0 1006.0,106.0 1070.0,82.0 1137.0,66.0 1200.0,57.0 1200.0,223.2 1196.0,224.1 1192.0,225.0 1188.0,225.9 1184.0,226.9 1180.0,227.8 1176.0,228.7 1172.0,229.6 1168.0,230.5 1164.0,231.4 1160.0,232.4 1156.0,233.3 1152.0,234.2 1148.0,235.1 1144.0,236.0 1140.0,236.9 1136.0,237.9 1132.0,246.8 1128.0,247.7 1124.0,248.6 1120.0,249.5 1116.0,250.4 1112.0,251.4 1108.0,252.3 1104.0,253.2 1100.0,254.1 1096.0,255.0 1092.0,255.9 1088.0,256.8 1084.0,257.8 1080.0,258.7 1076.0,259.6 1072.0,260.5 1068.0,261.4 1064.0,262.3 1060.0,263.3 1056.0,264.2 1052.0,265.1 1048.0,258.0 1044.0,258.9 1040.0,259.8 1036.0,260.8 1032.0,261.7 1028.0,262.6 1024.0,263.5 1020.0,264.4 1016.0,265.3 1012.0,266.3 1008.0,267.2 1004.0,268.1 1000.0,269.0 996.0,269.9 992.0,270.8 988.0,271.7 984.0,272.7 980.0,273.6 976.0,274.5 972.0,283.4 968.0,284.3 964.0,285.2 960.0,286.2 956.0,287.1 952.0,288.0 948.0,288.9 944.0,289.8 940.0,290.7 936.0,291.7 932.0,292.6 928.0,293.5 924.0,294.4 920.0,295.3 916.0,296.2 912.0,297.2 908.0,298.1 904.0,299.0 900.0,299.9 896.0,300.8 892.0,293.7 888.0,294.6 884.0,295.6 880.0,296.5 876.0,297.4 872.0,298.3 868.0,299.2 864.0,300.1 860.0,301.1 856.0,302.0 852.0,302.9 848.0,303.8 844.0,304.7 840.0,305.6 836.0,306.6 832.0,307.5 828.0,308.4 824.0,309.3 820.0,310.2 816.0,311.1 812.0,320.1 808.0,321.0 804.0,321.9 800.0,322.8 796.0,323.7 792.0,324.6 788.0,325.5 784.0,326.5 780.0,327.4 776.0,328.3 772.0,329.2 768.0,330.1 764.0,331.0 760.0,332.0 756.0,332.9 752.0,333.8 748.0,334.7 744.0,335.6 740.0,336.5 736.0,337.5 732.0,338.4 728.0,331.3 724.0,332.2 720.0,333.1 716.0,334.0 712.0,335.0 708.0,335.9 704.0,336.8 700.0,337.7 696.0,338.6 692.0,339.5 688.0,340.4 684.0,341.4 680.0,342.3 676.0,343.2 672.0,344.1 668.0,345.0 664.0,345.9 660.0,346.9 656.0,347.8 652.0,348.7 648.0,357.6 644.0,358.5 640.0,359.4 636.0,360.4 632.0,361.3 628.0,362.2 624.0,363.1 620.0,364.0 616.0,364.9 612.0,365.9 608.0,366.8 604.0,367.7 600.0,368.6 596.0,369.5 592.0,370.4 588.0,371.3 584.0,372.3 580.0,373.2 576.0,374.1 572.0,375.0 568.0,375.9 564.0,368.8 560.0,369.8 556.0,370.7 552.0,371.6 548.0,372.5 544.0,373.4 540.0,374.3 536.0,375.3 532.0,376.2 528.0,377.1 524.0,378.0 520.0,378.9 516.0,379.8 512.0,380.8 508.0,381.7 504.0,382.6 500.0,383.5 496.0,384.4 492.0,385.3 488.0,386.2 484.0,387.2 480.0,396.1 476.0,397.0 472.0,397.9 468.0,398.8 464.0,399.7 460.0,400.7 456.0,401.6 452.0,402.5 448.0,403.4 444.0,404.3 440.0,405.2 436.0,406.2 432.0,407.1 428.0,408.0 424.0,408.9 420.0,409.8 416.0,410.7 412.0,411.7 408.0,412.6 404.0,413.5 400.0,414.4 396.0,407.3 392.0,408.2 388.0,409.1 384.0,410.1 380.0,411.0 376.0,411.9 372.0,412.8 368.0,413.7 364.0,414.6 360.0,415.6 356.0,416.5 352.0,417.4 348.0,418.3 344.0,419.2 340.0,420.1 336.0,421.1 332.0,422.0 328.0,422.9 324.0,423.8 320.0,424.7 316.0,425.6 312.0,434.6 308.0,435.5 304.0,436.4 300.0,437.3 296.0,438.2 292.0,439.1 288.0,440.0 284.0,441.0 280.0,441.9 276.0,442.8 272.0,443.7 268.0,444.6 264.0,445.5 260.0,446.5 256.0,447.4 252.0,448.3 248.0,449.2 244.0,450.1 240.0,451.0 236.0,452.0 232.0,452.9 228.0,445.8 224.0,446.7 220.0,447.6 216.0,448.5 212.0,449.5 208.0,450.4 204.0,451.3 200.0,452.2 196.0,453.1 192.0,454.0 188.0,454.9 184.0,455.9 180.0,456.8 176.0,457.7 172.0,458.6 168.0,459.5 164.0,460.4 160.0,461.4 156.0,462.3 152.0,463.2 148.0,464.1 144.0,465.0 140.0,465.9 136.0,474.9 132.0,475.8 128.0,476.7 124.0,477.6 120.0,478.5 116.0,479.4 112.0,480.4 108.0,481.3 104.0,482.2 100.0,483.1 96.0,484.0 92.0,484.9 88.0,485.8 84.0,486.8 80.0,487.7 76.0,488.6 72.0,489.5 68.0,490.4 64.0,491.3 60.0,492.3 56.0,493.2 52.0,486.1 48.0,487.0 44.0,487.9 40.0,488.8 36.0,489.8 32.0,490.7 28.0,491.6 24.0,492.5 20.0,493.4 16.0,494.3 12.0,495.3 8.0,496.2 4.0,497.1 0.0,498.0" fill="url(#speck)"/>
<g clip-path="url(#ubclip)">
<polygon points="22.0,322.0 70.0,310.0 88.0,376.0 38.0,394.0" fill="#0e0e0e" opacity="0.8"/>
<polygon points="195.0,284.0 243.0,272.0 261.0,338.0 211.0,356.0" fill="#0e0e0e" opacity="0.8"/>
<polygon points="364.0,246.0 412.0,234.0 430.0,300.0 380.0,318.0" fill="#0e0e0e" opacity="0.8"/>
<polygon points="528.0,207.0 576.0,195.0 594.0,261.0 544.0,279.0" fill="#0e0e0e" opacity="0.8"/>
<polygon points="687.0,164.0 735.0,152.0 753.0,218.0 703.0,236.0" fill="#0e0e0e" opacity="0.8"/>
<polygon points="849.0,137.0 897.0,125.0 915.0,191.0 865.0,209.0" fill="#0e0e0e" opacity="0.8"/>
<polygon points="1073.0,86.0 1142.0,66.0 1152.0,128.0 1090.0,142.0" fill="#0e0e0e" opacity="0.8"/>
<polygon points="71.0,402.0 127.0,390.0 141.0,464.0 51.0,486.0" fill="#0e0e0e" opacity="0.55"/>
<polygon points="249.0,365.0 305.0,353.0 319.0,427.0 229.0,449.0" fill="#0e0e0e" opacity="0.55"/>
<polygon points="420.0,325.0 476.0,313.0 490.0,387.0 400.0,409.0" fill="#0e0e0e" opacity="0.55"/>
<polygon points="583.0,288.0 639.0,276.0 653.0,350.0 563.0,372.0" fill="#0e0e0e" opacity="0.55"/>
<polygon points="739.0,242.0 795.0,230.0 809.0,304.0 719.0,326.0" fill="#0e0e0e" opacity="0.55"/>
<polygon points="911.0,209.0 967.0,197.0 981.0,271.0 891.0,293.0" fill="#0e0e0e" opacity="0.55"/>
<polygon points="1066.0,183.0 1122.0,171.0 1136.0,245.0 1046.0,267.0" fill="#0e0e0e" opacity="0.55"/>
</g>
<path d="M26.0,316.0 L-10.0,333.0" fill="none" stroke="#101010" stroke-width="16" stroke-linecap="round"/>
<path d="M26.0,316.0 L-10.0,333.0" fill="none" stroke="#9c9c9c" stroke-width="14" stroke-linecap="round"/>
<path d="M26.0,316.0 L-10.0,333.0" fill="none" stroke="#f4f4f4" stroke-width="11" stroke-linecap="round" transform="translate(-0.4,-0.7)"/>
<path d="M26.0,316.0 L-10.0,333.0" fill="none" stroke="#161616" stroke-width="4" stroke-linecap="round"/>
<path d="M70.0,318.0 L173.0,282.0 L189.0,276.0 Q204.0,278.0 203.0,296.0 Q205.0,321.0 177.0,322.0 L131.0,325.0 Q102.0,332.0 103.0,356.0 Q104.0,370.0 114.0,372.0" fill="none" stroke="#101010" stroke-width="13.4" stroke-linecap="round" stroke-linejoin="round"/>
<path d="M70.0,318.0 L173.0,282.0 L189.0,276.0 Q204.0,278.0 203.0,296.0 Q205.0,321.0 177.0,322.0 L131.0,325.0 Q102.0,332.0 103.0,356.0 Q104.0,370.0 114.0,372.0" fill="none" stroke="#7a7a7a" stroke-width="11" stroke-linecap="round" stroke-linejoin="round"/>
<path d="M70.0,318.0 L173.0,282.0 L189.0,276.0 Q204.0,278.0 203.0,296.0 Q205.0,321.0 177.0,322.0 L131.0,325.0 Q102.0,332.0 103.0,356.0 Q104.0,370.0 114.0,372.0" fill="none" stroke="#d4d4d4" stroke-width="6.6" stroke-linecap="round" stroke-linejoin="round" transform="translate(-0.4,-0.8)"/>
<path d="M70.0,318.0 L173.0,282.0 L189.0,276.0 Q204.0,278.0 203.0,296.0 Q205.0,321.0 177.0,322.0 L131.0,325.0 Q102.0,332.0 103.0,356.0 Q104.0,370.0 114.0,372.0" fill="none" stroke="#ffffff" stroke-width="3.3" stroke-linecap="round" stroke-linejoin="round" transform="translate(-0.8,-1.3)"/>
<line x1="74.0" y1="319.5" x2="169.0" y2="284.5" stroke="#3a3a3a" stroke-width="1.3"/>
<path d="M199.0,277.0 L168.0,302.0" fill="none" stroke="#101010" stroke-width="16" stroke-linecap="round"/>
<path d="M199.0,277.0 L168.0,302.0" fill="none" stroke="#9c9c9c" stroke-width="14" stroke-linecap="round"/>
<path d="M199.0,277.0 L168.0,302.0" fill="none" stroke="#f4f4f4" stroke-width="11" stroke-linecap="round" transform="translate(-0.4,-0.7)"/>
<path d="M199.0,277.0 L168.0,302.0" fill="none" stroke="#161616" stroke-width="4" stroke-linecap="round"/>
<path d="M243.0,280.0 L342.0,244.0 L358.0,238.0 Q373.0,240.0 372.0,258.0 Q374.0,283.0 346.0,284.0 L300.0,287.0 Q271.0,294.0 272.0,318.0 Q273.0,332.0 283.0,334.0" fill="none" stroke="#101010" stroke-width="13.4" stroke-linecap="round" stroke-linejoin="round"/>
<path d="M243.0,280.0 L342.0,244.0 L358.0,238.0 Q373.0,240.0 372.0,258.0 Q374.0,283.0 346.0,284.0 L300.0,287.0 Q271.0,294.0 272.0,318.0 Q273.0,332.0 283.0,334.0" fill="none" stroke="#7a7a7a" stroke-width="11" stroke-linecap="round" stroke-linejoin="round"/>
<path d="M243.0,280.0 L342.0,244.0 L358.0,238.0 Q373.0,240.0 372.0,258.0 Q374.0,283.0 346.0,284.0 L300.0,287.0 Q271.0,294.0 272.0,318.0 Q273.0,332.0 283.0,334.0" fill="none" stroke="#d4d4d4" stroke-width="6.6" stroke-linecap="round" stroke-linejoin="round" transform="translate(-0.4,-0.8)"/>
<path d="M243.0,280.0 L342.0,244.0 L358.0,238.0 Q373.0,240.0 372.0,258.0 Q374.0,283.0 346.0,284.0 L300.0,287.0 Q271.0,294.0 272.0,318.0 Q273.0,332.0 283.0,334.0" fill="none" stroke="#ffffff" stroke-width="3.3" stroke-linecap="round" stroke-linejoin="round" transform="translate(-0.8,-1.3)"/>
<line x1="247.0" y1="281.5" x2="338.0" y2="246.5" stroke="#3a3a3a" stroke-width="1.3"/>
<path d="M368.0,239.0 L337.0,264.0" fill="none" stroke="#101010" stroke-width="16" stroke-linecap="round"/>
<path d="M368.0,239.0 L337.0,264.0" fill="none" stroke="#9c9c9c" stroke-width="14" stroke-linecap="round"/>
<path d="M368.0,239.0 L337.0,264.0" fill="none" stroke="#f4f4f4" stroke-width="11" stroke-linecap="round" transform="translate(-0.4,-0.7)"/>
<path d="M368.0,239.0 L337.0,264.0" fill="none" stroke="#161616" stroke-width="4" stroke-linecap="round"/>
<path d="M412.0,242.0 L506.0,205.0 L522.0,199.0 Q537.0,201.0 536.0,219.0 Q538.0,244.0 510.0,245.0 L464.0,248.0 Q435.0,255.0 436.0,279.0 Q437.0,293.0 447.0,295.0" fill="none" stroke="#101010" stroke-width="13.4" stroke-linecap="round" stroke-linejoin="round"/>
<path d="M412.0,242.0 L506.0,205.0 L522.0,199.0 Q537.0,201.0 536.0,219.0 Q538.0,244.0 510.0,245.0 L464.0,248.0 Q435.0,255.0 436.0,279.0 Q437.0,293.0 447.0,295.0" fill="none" stroke="#7a7a7a" stroke-width="11" stroke-linecap="round" stroke-linejoin="round"/>
<path d="M412.0,242.0 L506.0,205.0 L522.0,199.0 Q537.0,201.0 536.0,219.0 Q538.0,244.0 510.0,245.0 L464.0,248.0 Q435.0,255.0 436.0,279.0 Q437.0,293.0 447.0,295.0" fill="none" stroke="#d4d4d4" stroke-width="6.6" stroke-linecap="round" stroke-linejoin="round" transform="translate(-0.4,-0.8)"/>
<path d="M412.0,242.0 L506.0,205.0 L522.0,199.0 Q537.0,201.0 536.0,219.0 Q538.0,244.0 510.0,245.0 L464.0,248.0 Q435.0,255.0 436.0,279.0 Q437.0,293.0 447.0,295.0" fill="none" stroke="#ffffff" stroke-width="3.3" stroke-linecap="round" stroke-linejoin="round" transform="translate(-0.8,-1.3)"/>
<line x1="416.0" y1="243.5" x2="502.0" y2="207.5" stroke="#3a3a3a" stroke-width="1.3"/>
<path d="M532.0,200.0 L501.0,225.0" fill="none" stroke="#101010" stroke-width="16" stroke-linecap="round"/>
<path d="M532.0,200.0 L501.0,225.0" fill="none" stroke="#9c9c9c" stroke-width="14" stroke-linecap="round"/>
<path d="M532.0,200.0 L501.0,225.0" fill="none" stroke="#f4f4f4" stroke-width="11" stroke-linecap="round" transform="translate(-0.4,-0.7)"/>
<path d="M532.0,200.0 L501.0,225.0" fill="none" stroke="#161616" stroke-width="4" stroke-linecap="round"/>
<path d="M576.0,203.0 L665.0,162.0 L681.0,156.0 Q696.0,158.0 695.0,176.0 Q697.0,201.0 669.0,202.0 L623.0,205.0 Q594.0,212.0 595.0,236.0 Q596.0,250.0 606.0,252.0" fill="none" stroke="#101010" stroke-width="13.4" stroke-linecap="round" stroke-linejoin="round"/>
<path d="M576.0,203.0 L665.0,162.0 L681.0,156.0 Q696.0,158.0 695.0,176.0 Q697.0,201.0 669.0,202.0 L623.0,205.0 Q594.0,212.0 595.0,236.0 Q596.0,250.0 606.0,252.0" fill="none" stroke="#7a7a7a" stroke-width="11" stroke-linecap="round" stroke-linejoin="round"/>
<path d="M576.0,203.0 L665.0,162.0 L681.0,156.0 Q696.0,158.0 695.0,176.0 Q697.0,201.0 669.0,202.0 L623.0,205.0 Q594.0,212.0 595.0,236.0 Q596.0,250.0 606.0,252.0" fill="none" stroke="#d4d4d4" stroke-width="6.6" stroke-linecap="round" stroke-linejoin="round" transform="translate(-0.4,-0.8)"/>
<path d="M576.0,203.0 L665.0,162.0 L681.0,156.0 Q696.0,158.0 695.0,176.0 Q697.0,201.0 669.0,202.0 L623.0,205.0 Q594.0,212.0 595.0,236.0 Q596.0,250.0 606.0,252.0" fill="none" stroke="#ffffff" stroke-width="3.3" stroke-linecap="round" stroke-linejoin="round" transform="translate(-0.8,-1.3)"/>
<line x1="580.0" y1="204.5" x2="661.0" y2="164.5" stroke="#3a3a3a" stroke-width="1.3"/>
<path d="M691.0,157.0 L660.0,182.0" fill="none" stroke="#101010" stroke-width="16" stroke-linecap="round"/>
<path d="M691.0,157.0 L660.0,182.0" fill="none" stroke="#9c9c9c" stroke-width="14" stroke-linecap="round"/>
<path d="M691.0,157.0 L660.0,182.0" fill="none" stroke="#f4f4f4" stroke-width="11" stroke-linecap="round" transform="translate(-0.4,-0.7)"/>
<path d="M691.0,157.0 L660.0,182.0" fill="none" stroke="#161616" stroke-width="4" stroke-linecap="round"/>
<path d="M735.0,160.0 L827.0,135.0 L843.0,129.0 Q858.0,131.0 857.0,149.0 Q859.0,174.0 831.0,175.0 L785.0,178.0 Q756.0,185.0 757.0,209.0 Q758.0,223.0 768.0,225.0" fill="none" stroke="#101010" stroke-width="13.4" stroke-linecap="round" stroke-linejoin="round"/>
<path d="M735.0,160.0 L827.0,135.0 L843.0,129.0 Q858.0,131.0 857.0,149.0 Q859.0,174.0 831.0,175.0 L785.0,178.0 Q756.0,185.0 757.0,209.0 Q758.0,223.0 768.0,225.0" fill="none" stroke="#7a7a7a" stroke-width="11" stroke-linecap="round" stroke-linejoin="round"/>
<path d="M735.0,160.0 L827.0,135.0 L843.0,129.0 Q858.0,131.0 857.0,149.0 Q859.0,174.0 831.0,175.0 L785.0,178.0 Q756.0,185.0 757.0,209.0 Q758.0,223.0 768.0,225.0" fill="none" stroke="#d4d4d4" stroke-width="6.6" stroke-linecap="round" stroke-linejoin="round" transform="translate(-0.4,-0.8)"/>
<path d="M735.0,160.0 L827.0,135.0 L843.0,129.0 Q858.0,131.0 857.0,149.0 Q859.0,174.0 831.0,175.0 L785.0,178.0 Q756.0,185.0 757.0,209.0 Q758.0,223.0 768.0,225.0" fill="none" stroke="#ffffff" stroke-width="3.3" stroke-linecap="round" stroke-linejoin="round" transform="translate(-0.8,-1.3)"/>
<line x1="739.0" y1="161.5" x2="823.0" y2="137.5" stroke="#3a3a3a" stroke-width="1.3"/>
<path d="M853.0,130.0 L822.0,155.0" fill="none" stroke="#101010" stroke-width="16" stroke-linecap="round"/>
<path d="M853.0,130.0 L822.0,155.0" fill="none" stroke="#9c9c9c" stroke-width="14" stroke-linecap="round"/>
<path d="M853.0,130.0 L822.0,155.0" fill="none" stroke="#f4f4f4" stroke-width="11" stroke-linecap="round" transform="translate(-0.4,-0.7)"/>
<path d="M853.0,130.0 L822.0,155.0" fill="none" stroke="#161616" stroke-width="4" stroke-linecap="round"/>
<path d="M897.0,133.0 L982.0,107.0 L998.0,101.0 Q1013.0,103.0 1012.0,121.0 Q1014.0,146.0 986.0,147.0 L940.0,150.0 Q911.0,157.0 912.0,181.0 Q913.0,195.0 923.0,197.0" fill="none" stroke="#101010" stroke-width="13.4" stroke-linecap="round" stroke-linejoin="round"/>
<path d="M897.0,133.0 L982.0,107.0 L998.0,101.0 Q1013.0,103.0 1012.0,121.0 Q1014.0,146.0 986.0,147.0 L940.0,150.0 Q911.0,157.0 912.0,181.0 Q913.0,195.0 923.0,197.0" fill="none" stroke="#7a7a7a" stroke-width="11" stroke-linecap="round" stroke-linejoin="round"/>
<path d="M897.0,133.0 L982.0,107.0 L998.0,101.0 Q1013.0,103.0 1012.0,121.0 Q1014.0,146.0 986.0,147.0 L940.0,150.0 Q911.0,157.0 912.0,181.0 Q913.0,195.0 923.0,197.0" fill="none" stroke="#d4d4d4" stroke-width="6.6" stroke-linecap="round" stroke-linejoin="round" transform="translate(-0.4,-0.8)"/>
<path d="M897.0,133.0 L982.0,107.0 L998.0,101.0 Q1013.0,103.0 1012.0,121.0 Q1014.0,146.0 986.0,147.0 L940.0,150.0 Q911.0,157.0 912.0,181.0 Q913.0,195.0 923.0,197.0" fill="none" stroke="#ffffff" stroke-width="3.3" stroke-linecap="round" stroke-linejoin="round" transform="translate(-0.8,-1.3)"/>
<line x1="901.0" y1="134.5" x2="978.0" y2="109.5" stroke="#3a3a3a" stroke-width="1.3"/>
<path d="M1008.0,102.0 L977.0,127.0" fill="none" stroke="#101010" stroke-width="16" stroke-linecap="round"/>
<path d="M1008.0,102.0 L977.0,127.0" fill="none" stroke="#9c9c9c" stroke-width="14" stroke-linecap="round"/>
<path d="M1008.0,102.0 L977.0,127.0" fill="none" stroke="#f4f4f4" stroke-width="11" stroke-linecap="round" transform="translate(-0.4,-0.7)"/>
<path d="M1008.0,102.0 L977.0,127.0" fill="none" stroke="#161616" stroke-width="4" stroke-linecap="round"/>
<line x1="1037.0" y1="117.0" x2="1076.0" y2="101.0" stroke="#101010" stroke-width="13.4" stroke-linecap="round"/>
<line x1="1037.0" y1="117.0" x2="1076.0" y2="101.0" stroke="#9a9a9a" stroke-width="11" stroke-linecap="round"/>
<line x1="1036.2" y1="115.0" x2="1075.2" y2="99.0" stroke="#fdfdfd" stroke-width="6.1" stroke-linecap="round"/>
<line x1="1037.6" y1="118.4" x2="1076.6" y2="102.4" stroke="#3a3a3a" stroke-width="1.2"/>
<path d="M1144,80 Q1160,88 1156,100 Q1152,111 1128,111 L1100,114 Q1070,120 1067,143 Q1067,155 1078,157" fill="none" stroke="#101010" stroke-width="13.4" stroke-linecap="round" stroke-linejoin="round"/>
<path d="M1144,80 Q1160,88 1156,100 Q1152,111 1128,111 L1100,114 Q1070,120 1067,143 Q1067,155 1078,157" fill="none" stroke="#7a7a7a" stroke-width="11" stroke-linecap="round" stroke-linejoin="round"/>
<path d="M1144,80 Q1160,88 1156,100 Q1152,111 1128,111 L1100,114 Q1070,120 1067,143 Q1067,155 1078,157" fill="none" stroke="#d4d4d4" stroke-width="6.6" stroke-linecap="round" stroke-linejoin="round" transform="translate(-0.4,-0.8)"/>
<path d="M1144,80 Q1160,88 1156,100 Q1152,111 1128,111 L1100,114 Q1070,120 1067,143 Q1067,155 1078,157" fill="none" stroke="#ffffff" stroke-width="3.3" stroke-linecap="round" stroke-linejoin="round" transform="translate(-0.8,-1.3)"/>
<path d="M72,397 L32,408 Q22,414 32,420 L74,409" fill="none" stroke="#101010" stroke-width="9.4" stroke-linecap="round" stroke-linejoin="round"/>
<path d="M72,397 L32,408 Q22,414 32,420 L74,409" fill="none" stroke="#7a7a7a" stroke-width="7" stroke-linecap="round" stroke-linejoin="round"/>
<path d="M72,397 L32,408 Q22,414 32,420 L74,409" fill="none" stroke="#d4d4d4" stroke-width="4.2" stroke-linecap="round" stroke-linejoin="round" transform="translate(-0.4,-0.8)"/>
<path d="M72,397 L32,408 Q22,414 32,420 L74,409" fill="none" stroke="#ffffff" stroke-width="2.1" stroke-linecap="round" stroke-linejoin="round" transform="translate(-0.8,-1.3)"/>
<path d="M145.0,399.0 C157.0,375.0 175.0,361.0 203.0,351.0 Q225.0,345.0 235.0,355.0 L245.0,371.0 Q251.0,385.0 235.0,389.0 L127.0,412.0" fill="none" stroke="#101010" stroke-width="13.4" stroke-linecap="round" stroke-linejoin="round"/>
<path d="M145.0,399.0 C157.0,375.0 175.0,361.0 203.0,351.0 Q225.0,345.0 235.0,355.0 L245.0,371.0 Q251.0,385.0 235.0,389.0 L127.0,412.0" fill="none" stroke="#7a7a7a" stroke-width="11" stroke-linecap="round" stroke-linejoin="round"/>
<path d="M145.0,399.0 C157.0,375.0 175.0,361.0 203.0,351.0 Q225.0,345.0 235.0,355.0 L245.0,371.0 Q251.0,385.0 235.0,389.0 L127.0,412.0" fill="none" stroke="#d4d4d4" stroke-width="6.6" stroke-linecap="round" stroke-linejoin="round" transform="translate(-0.4,-0.8)"/>
<path d="M145.0,399.0 C157.0,375.0 175.0,361.0 203.0,351.0 Q225.0,345.0 235.0,355.0 L245.0,371.0 Q251.0,385.0 235.0,389.0 L127.0,412.0" fill="none" stroke="#ffffff" stroke-width="3.3" stroke-linecap="round" stroke-linejoin="round" transform="translate(-0.8,-1.3)"/>
<line x1="231.0" y1="391.5" x2="131.0" y2="414.0" stroke="#3a3a3a" stroke-width="1.3"/>
<path d="M253.0,361.0 L205.0,373.0" fill="none" stroke="#101010" stroke-width="16" stroke-linecap="round"/>
<path d="M253.0,361.0 L205.0,373.0" fill="none" stroke="#9c9c9c" stroke-width="14" stroke-linecap="round"/>
<path d="M253.0,361.0 L205.0,373.0" fill="none" stroke="#f4f4f4" stroke-width="11" stroke-linecap="round" transform="translate(-0.4,-0.7)"/>
<path d="M253.0,361.0 L205.0,373.0" fill="none" stroke="#161616" stroke-width="4" stroke-linecap="round"/>
<path d="M316.0,359.0 C328.0,335.0 346.0,321.0 374.0,311.0 Q396.0,305.0 406.0,315.0 L416.0,331.0 Q422.0,345.0 406.0,349.0 L305.0,375.0" fill="none" stroke="#101010" stroke-width="13.4" stroke-linecap="round" stroke-linejoin="round"/>
<path d="M316.0,359.0 C328.0,335.0 346.0,321.0 374.0,311.0 Q396.0,305.0 406.0,315.0 L416.0,331.0 Q422.0,345.0 406.0,349.0 L305.0,375.0" fill="none" stroke="#7a7a7a" stroke-width="11" stroke-linecap="round" stroke-linejoin="round"/>
<path d="M316.0,359.0 C328.0,335.0 346.0,321.0 374.0,311.0 Q396.0,305.0 406.0,315.0 L416.0,331.0 Q422.0,345.0 406.0,349.0 L305.0,375.0" fill="none" stroke="#d4d4d4" stroke-width="6.6" stroke-linecap="round" stroke-linejoin="round" transform="translate(-0.4,-0.8)"/>
<path d="M316.0,359.0 C328.0,335.0 346.0,321.0 374.0,311.0 Q396.0,305.0 406.0,315.0 L416.0,331.0 Q422.0,345.0 406.0,349.0 L305.0,375.0" fill="none" stroke="#ffffff" stroke-width="3.3" stroke-linecap="round" stroke-linejoin="round" transform="translate(-0.8,-1.3)"/>
<line x1="402.0" y1="351.5" x2="309.0" y2="377.0" stroke="#3a3a3a" stroke-width="1.3"/>
<path d="M424.0,321.0 L376.0,333.0" fill="none" stroke="#101010" stroke-width="16" stroke-linecap="round"/>
<path d="M424.0,321.0 L376.0,333.0" fill="none" stroke="#9c9c9c" stroke-width="14" stroke-linecap="round"/>
<path d="M424.0,321.0 L376.0,333.0" fill="none" stroke="#f4f4f4" stroke-width="11" stroke-linecap="round" transform="translate(-0.4,-0.7)"/>
<path d="M424.0,321.0 L376.0,333.0" fill="none" stroke="#161616" stroke-width="4" stroke-linecap="round"/>
<path d="M479.0,322.0 C491.0,298.0 509.0,284.0 537.0,274.0 Q559.0,268.0 569.0,278.0 L579.0,294.0 Q585.0,308.0 569.0,312.0 L476.0,335.0" fill="none" stroke="#101010" stroke-width="13.4" stroke-linecap="round" stroke-linejoin="round"/>
<path d="M479.0,322.0 C491.0,298.0 509.0,284.0 537.0,274.0 Q559.0,268.0 569.0,278.0 L579.0,294.0 Q585.0,308.0 569.0,312.0 L476.0,335.0" fill="none" stroke="#7a7a7a" stroke-width="11" stroke-linecap="round" stroke-linejoin="round"/>
<path d="M479.0,322.0 C491.0,298.0 509.0,284.0 537.0,274.0 Q559.0,268.0 569.0,278.0 L579.0,294.0 Q585.0,308.0 569.0,312.0 L476.0,335.0" fill="none" stroke="#d4d4d4" stroke-width="6.6" stroke-linecap="round" stroke-linejoin="round" transform="translate(-0.4,-0.8)"/>
<path d="M479.0,322.0 C491.0,298.0 509.0,284.0 537.0,274.0 Q559.0,268.0 569.0,278.0 L579.0,294.0 Q585.0,308.0 569.0,312.0 L476.0,335.0" fill="none" stroke="#ffffff" stroke-width="3.3" stroke-linecap="round" stroke-linejoin="round" transform="translate(-0.8,-1.3)"/>
<line x1="565.0" y1="314.5" x2="480.0" y2="337.0" stroke="#3a3a3a" stroke-width="1.3"/>
<path d="M587.0,284.0 L539.0,296.0" fill="none" stroke="#101010" stroke-width="16" stroke-linecap="round"/>
<path d="M587.0,284.0 L539.0,296.0" fill="none" stroke="#9c9c9c" stroke-width="14" stroke-linecap="round"/>
<path d="M587.0,284.0 L539.0,296.0" fill="none" stroke="#f4f4f4" stroke-width="11" stroke-linecap="round" transform="translate(-0.4,-0.7)"/>
<path d="M587.0,284.0 L539.0,296.0" fill="none" stroke="#161616" stroke-width="4" stroke-linecap="round"/>
<path d="M635.0,276.0 C647.0,252.0 665.0,238.0 693.0,228.0 Q715.0,222.0 725.0,232.0 L735.0,248.0 Q741.0,262.0 725.0,266.0 L639.0,298.0" fill="none" stroke="#101010" stroke-width="13.4" stroke-linecap="round" stroke-linejoin="round"/>
<path d="M635.0,276.0 C647.0,252.0 665.0,238.0 693.0,228.0 Q715.0,222.0 725.0,232.0 L735.0,248.0 Q741.0,262.0 725.0,266.0 L639.0,298.0" fill="none" stroke="#7a7a7a" stroke-width="11" stroke-linecap="round" stroke-linejoin="round"/>
<path d="M635.0,276.0 C647.0,252.0 665.0,238.0 693.0,228.0 Q715.0,222.0 725.0,232.0 L735.0,248.0 Q741.0,262.0 725.0,266.0 L639.0,298.0" fill="none" stroke="#d4d4d4" stroke-width="6.6" stroke-linecap="round" stroke-linejoin="round" transform="translate(-0.4,-0.8)"/>
<path d="M635.0,276.0 C647.0,252.0 665.0,238.0 693.0,228.0 Q715.0,222.0 725.0,232.0 L735.0,248.0 Q741.0,262.0 725.0,266.0 L639.0,298.0" fill="none" stroke="#ffffff" stroke-width="3.3" stroke-linecap="round" stroke-linejoin="round" transform="translate(-0.8,-1.3)"/>
<line x1="721.0" y1="268.5" x2="643.0" y2="300.0" stroke="#3a3a3a" stroke-width="1.3"/>
<path d="M743.0,238.0 L695.0,250.0" fill="none" stroke="#101010" stroke-width="16" stroke-linecap="round"/>
<path d="M743.0,238.0 L695.0,250.0" fill="none" stroke="#9c9c9c" stroke-width="14" stroke-linecap="round"/>
<path d="M743.0,238.0 L695.0,250.0" fill="none" stroke="#f4f4f4" stroke-width="11" stroke-linecap="round" transform="translate(-0.4,-0.7)"/>
<path d="M743.0,238.0 L695.0,250.0" fill="none" stroke="#161616" stroke-width="4" stroke-linecap="round"/>
<path d="M807.0,243.0 C819.0,219.0 837.0,205.0 865.0,195.0 Q887.0,189.0 897.0,199.0 L907.0,215.0 Q913.0,229.0 897.0,233.0 L795.0,252.0" fill="none" stroke="#101010" stroke-width="13.4" stroke-linecap="round" stroke-linejoin="round"/>
<path d="M807.0,243.0 C819.0,219.0 837.0,205.0 865.0,195.0 Q887.0,189.0 897.0,199.0 L907.0,215.0 Q913.0,229.0 897.0,233.0 L795.0,252.0" fill="none" stroke="#7a7a7a" stroke-width="11" stroke-linecap="round" stroke-linejoin="round"/>
<path d="M807.0,243.0 C819.0,219.0 837.0,205.0 865.0,195.0 Q887.0,189.0 897.0,199.0 L907.0,215.0 Q913.0,229.0 897.0,233.0 L795.0,252.0" fill="none" stroke="#d4d4d4" stroke-width="6.6" stroke-linecap="round" stroke-linejoin="round" transform="translate(-0.4,-0.8)"/>
<path d="M807.0,243.0 C819.0,219.0 837.0,205.0 865.0,195.0 Q887.0,189.0 897.0,199.0 L907.0,215.0 Q913.0,229.0 897.0,233.0 L795.0,252.0" fill="none" stroke="#ffffff" stroke-width="3.3" stroke-linecap="round" stroke-linejoin="round" transform="translate(-0.8,-1.3)"/>
<line x1="893.0" y1="235.5" x2="799.0" y2="254.0" stroke="#3a3a3a" stroke-width="1.3"/>
<path d="M915.0,205.0 L867.0,217.0" fill="none" stroke="#101010" stroke-width="16" stroke-linecap="round"/>
<path d="M915.0,205.0 L867.0,217.0" fill="none" stroke="#9c9c9c" stroke-width="14" stroke-linecap="round"/>
<path d="M915.0,205.0 L867.0,217.0" fill="none" stroke="#f4f4f4" stroke-width="11" stroke-linecap="round" transform="translate(-0.4,-0.7)"/>
<path d="M915.0,205.0 L867.0,217.0" fill="none" stroke="#161616" stroke-width="4" stroke-linecap="round"/>
<path d="M962.0,217.0 C974.0,193.0 992.0,179.0 1020.0,169.0 Q1042.0,163.0 1052.0,173.0 L1062.0,189.0 Q1068.0,203.0 1052.0,207.0 L967.0,219.0" fill="none" stroke="#101010" stroke-width="13.4" stroke-linecap="round" stroke-linejoin="round"/>
<path d="M962.0,217.0 C974.0,193.0 992.0,179.0 1020.0,169.0 Q1042.0,163.0 1052.0,173.0 L1062.0,189.0 Q1068.0,203.0 1052.0,207.0 L967.0,219.0" fill="none" stroke="#7a7a7a" stroke-width="11" stroke-linecap="round" stroke-linejoin="round"/>
<path d="M962.0,217.0 C974.0,193.0 992.0,179.0 1020.0,169.0 Q1042.0,163.0 1052.0,173.0 L1062.0,189.0 Q1068.0,203.0 1052.0,207.0 L967.0,219.0" fill="none" stroke="#d4d4d4" stroke-width="6.6" stroke-linecap="round" stroke-linejoin="round" transform="translate(-0.4,-0.8)"/>
<path d="M962.0,217.0 C974.0,193.0 992.0,179.0 1020.0,169.0 Q1042.0,163.0 1052.0,173.0 L1062.0,189.0 Q1068.0,203.0 1052.0,207.0 L967.0,219.0" fill="none" stroke="#ffffff" stroke-width="3.3" stroke-linecap="round" stroke-linejoin="round" transform="translate(-0.8,-1.3)"/>
<line x1="1048.0" y1="209.5" x2="971.0" y2="221.0" stroke="#3a3a3a" stroke-width="1.3"/>
<path d="M1070.0,179.0 L1022.0,191.0" fill="none" stroke="#101010" stroke-width="16" stroke-linecap="round"/>
<path d="M1070.0,179.0 L1022.0,191.0" fill="none" stroke="#9c9c9c" stroke-width="14" stroke-linecap="round"/>
<path d="M1070.0,179.0 L1022.0,191.0" fill="none" stroke="#f4f4f4" stroke-width="11" stroke-linecap="round" transform="translate(-0.4,-0.7)"/>
<path d="M1070.0,179.0 L1022.0,191.0" fill="none" stroke="#161616" stroke-width="4" stroke-linecap="round"/>
<line x1="1090.0" y1="204.0" x2="1138.0" y2="190.0" stroke="#101010" stroke-width="13.4" stroke-linecap="round"/>
<line x1="1090.0" y1="204.0" x2="1138.0" y2="190.0" stroke="#9a9a9a" stroke-width="11" stroke-linecap="round"/>
<line x1="1089.4" y1="201.9" x2="1137.4" y2="187.9" stroke="#fdfdfd" stroke-width="6.1" stroke-linecap="round"/>
<line x1="1090.4" y1="205.5" x2="1138.4" y2="191.5" stroke="#3a3a3a" stroke-width="1.2"/>
<path d="M1127,174 C1138,160 1150,148 1172,143 Q1190,142 1206,156" fill="none" stroke="#101010" stroke-width="13.4" stroke-linecap="round" stroke-linejoin="round"/>
<path d="M1127,174 C1138,160 1150,148 1172,143 Q1190,142 1206,156" fill="none" stroke="#7a7a7a" stroke-width="11" stroke-linecap="round" stroke-linejoin="round"/>
<path d="M1127,174 C1138,160 1150,148 1172,143 Q1190,142 1206,156" fill="none" stroke="#d4d4d4" stroke-width="6.6" stroke-linecap="round" stroke-linejoin="round" transform="translate(-0.4,-0.8)"/>
<path d="M1127,174 C1138,160 1150,148 1172,143 Q1190,142 1206,156" fill="none" stroke="#ffffff" stroke-width="3.3" stroke-linecap="round" stroke-linejoin="round" transform="translate(-0.8,-1.3)"/>
<path d="M22.4,315.3 L54.6,289.1 Q82.5,270.8 88.9,247.6 L92.0,231.0" fill="none" stroke="#060606" stroke-width="28" stroke-linejoin="round"/>
<circle cx="92.0" cy="231.0" r="13.7" fill="#060606"/>
<path d="M32.0,315.9 L58.7,294.1 Q86.6,275.9 92.1,251.5" fill="none" stroke="#d6d6d6" stroke-width="3.6" stroke-linecap="round" opacity="0.85"/>
<path d="M25.8,303.5 L50.2,283.7" fill="none" stroke="#6a6a6a" stroke-width="2" stroke-linecap="round" opacity="0.7"/>
<path d="M88.9,231.4 L86.7,243.2" stroke="#e8e8e8" stroke-width="3.6" stroke-linecap="round" opacity="0.8" fill="none"/>
<path d="M95.9,234.8 L94.6,241.7" stroke="#9a9a9a" stroke-width="2.4" stroke-linecap="round" opacity="0.8" fill="none"/>
<circle cx="27.2" cy="310.1" r="2.6" fill="#d8d8d8" opacity="0.75"/>
<path d="M195.4,277.2 L227.6,251.7 Q255.5,233.9 261.9,211.2 L265.0,195.0" fill="none" stroke="#060606" stroke-width="28" stroke-linejoin="round"/>
<circle cx="265.0" cy="195.0" r="13.7" fill="#060606"/>
<path d="M205.0,278.0 L231.6,256.8 Q259.5,239.0 265.0,215.1" fill="none" stroke="#d6d6d6" stroke-width="3.6" stroke-linecap="round" opacity="0.85"/>
<path d="M198.9,265.5 L223.2,246.2" fill="none" stroke="#6a6a6a" stroke-width="2" stroke-linecap="round" opacity="0.7"/>
<path d="M261.9,195.4 L259.6,207.2" stroke="#e8e8e8" stroke-width="3.6" stroke-linecap="round" opacity="0.8" fill="none"/>
<path d="M268.9,198.8 L267.6,205.7" stroke="#9a9a9a" stroke-width="2.4" stroke-linecap="round" opacity="0.8" fill="none"/>
<circle cx="200.3" cy="272.1" r="2.6" fill="#d8d8d8" opacity="0.75"/>
<path d="M364.4,239.2 L396.6,214.6 Q424.5,197.4 430.9,175.6 L434.0,160.0" fill="none" stroke="#060606" stroke-width="28" stroke-linejoin="round"/>
<circle cx="434.0" cy="160.0" r="13.7" fill="#060606"/>
<path d="M373.9,240.1 L400.5,219.8 Q428.4,202.6 434.0,179.6" fill="none" stroke="#d6d6d6" stroke-width="3.6" stroke-linecap="round" opacity="0.85"/>
<path d="M368.1,227.6 L392.3,209.0" fill="none" stroke="#6a6a6a" stroke-width="2" stroke-linecap="round" opacity="0.7"/>
<path d="M430.9,160.4 L428.6,172.2" stroke="#e8e8e8" stroke-width="3.6" stroke-linecap="round" opacity="0.8" fill="none"/>
<path d="M437.8,163.8 L436.5,170.7" stroke="#9a9a9a" stroke-width="2.4" stroke-linecap="round" opacity="0.8" fill="none"/>
<circle cx="369.4" cy="234.2" r="2.6" fill="#d8d8d8" opacity="0.75"/>
<path d="M528.5,200.3 L557.5,176.5 Q582.5,160.0 588.3,139.0 L591.0,124.0" fill="none" stroke="#060606" stroke-width="28" stroke-linejoin="round"/>
<circle cx="591.0" cy="124.0" r="13.7" fill="#060606"/>
<path d="M538.0,200.9 L561.6,181.5 Q586.6,165.0 591.4,142.9" fill="none" stroke="#d6d6d6" stroke-width="3.6" stroke-linecap="round" opacity="0.85"/>
<path d="M531.7,188.5 L553.0,171.1" fill="none" stroke="#6a6a6a" stroke-width="2" stroke-linecap="round" opacity="0.7"/>
<path d="M587.9,124.4 L585.7,136.2" stroke="#e8e8e8" stroke-width="3.6" stroke-linecap="round" opacity="0.8" fill="none"/>
<path d="M594.9,127.8 L593.6,134.6" stroke="#9a9a9a" stroke-width="2.4" stroke-linecap="round" opacity="0.8" fill="none"/>
<circle cx="533.2" cy="195.1" r="2.6" fill="#d8d8d8" opacity="0.75"/>
<path d="M687.5,157.3 L716.5,133.2 Q741.5,116.5 747.3,95.2 L750.0,80.0" fill="none" stroke="#060606" stroke-width="28" stroke-linejoin="round"/>
<circle cx="750.0" cy="80.0" r="13.7" fill="#060606"/>
<path d="M697.0,157.8 L720.6,138.2 Q745.6,121.5 750.4,99.0" fill="none" stroke="#d6d6d6" stroke-width="3.6" stroke-linecap="round" opacity="0.85"/>
<path d="M690.7,145.5 L712.0,127.8" fill="none" stroke="#6a6a6a" stroke-width="2" stroke-linecap="round" opacity="0.7"/>
<path d="M746.9,80.5 L744.7,92.3" stroke="#e8e8e8" stroke-width="3.6" stroke-linecap="round" opacity="0.8" fill="none"/>
<path d="M753.9,83.8 L752.7,90.6" stroke="#9a9a9a" stroke-width="2.4" stroke-linecap="round" opacity="0.8" fill="none"/>
<circle cx="692.2" cy="152.0" r="2.6" fill="#d8d8d8" opacity="0.75"/>
<path d="M849.4,130.2 L880.7,106.8 Q907.8,90.5 914.0,69.8 L917.0,55.0" fill="none" stroke="#060606" stroke-width="28" stroke-linejoin="round"/>
<circle cx="917.0" cy="55.0" r="13.7" fill="#060606"/>
<path d="M858.9,131.2 L884.6,112.0 Q911.7,95.7 917.0,73.8" fill="none" stroke="#d6d6d6" stroke-width="3.6" stroke-linecap="round" opacity="0.85"/>
<path d="M853.2,118.6 L876.5,101.2" fill="none" stroke="#6a6a6a" stroke-width="2" stroke-linecap="round" opacity="0.7"/>
<path d="M913.9,55.4 L911.5,67.2" stroke="#e8e8e8" stroke-width="3.6" stroke-linecap="round" opacity="0.8" fill="none"/>
<path d="M920.8,58.8 L919.4,65.7" stroke="#9a9a9a" stroke-width="2.4" stroke-linecap="round" opacity="0.8" fill="none"/>
<circle cx="854.4" cy="125.2" r="2.6" fill="#d8d8d8" opacity="0.75"/>
<path d="M1004.4,102.1 L1037.0,79.7 Q1065.3,64.1 1071.9,44.2 L1075.0,30.0" fill="none" stroke="#060606" stroke-width="28" stroke-linejoin="round"/>
<circle cx="1075.0" cy="30.0" r="13.7" fill="#060606"/>
<path d="M1013.8,103.5 L1040.7,85.1 Q1069.0,69.4 1074.7,48.3" fill="none" stroke="#d6d6d6" stroke-width="3.6" stroke-linecap="round" opacity="0.85"/>
<path d="M1008.6,90.7 L1033.1,73.9" fill="none" stroke="#6a6a6a" stroke-width="2" stroke-linecap="round" opacity="0.7"/>
<path d="M1071.9,30.3 L1069.3,42.1" stroke="#e8e8e8" stroke-width="3.6" stroke-linecap="round" opacity="0.8" fill="none"/>
<path d="M1078.8,33.9 L1077.3,40.7" stroke="#9a9a9a" stroke-width="2.4" stroke-linecap="round" opacity="0.8" fill="none"/>
<circle cx="1009.6" cy="97.3" r="2.6" fill="#d8d8d8" opacity="0.75"/>
<path d="M73.1,394.5 L110.6,385.0 Q142.1,371.5 150.8,354.0 L154.0,344.0" fill="none" stroke="#060606" stroke-width="28" stroke-linejoin="round"/>
<circle cx="154.0" cy="344.0" r="13.7" fill="#060606"/>
<path d="M81.4,399.1 L112.1,391.3 Q143.7,377.8 152.1,358.8" fill="none" stroke="#d6d6d6" stroke-width="3.6" stroke-linecap="round" opacity="0.85"/>
<path d="M81.0,385.3 L108.8,378.2" fill="none" stroke="#6a6a6a" stroke-width="2" stroke-linecap="round" opacity="0.7"/>
<path d="M150.8,344.0 L147.2,355.5" stroke="#e8e8e8" stroke-width="3.6" stroke-linecap="round" opacity="0.8" fill="none"/>
<path d="M157.4,348.2 L155.3,354.9" stroke="#9a9a9a" stroke-width="2.4" stroke-linecap="round" opacity="0.8" fill="none"/>
<circle cx="79.6" cy="391.8" r="2.6" fill="#d8d8d8" opacity="0.75"/>
<path d="M251.1,357.5 L288.1,347.5 Q319.3,333.1 327.9,314.6 L331.0,304.0" fill="none" stroke="#060606" stroke-width="28" stroke-linejoin="round"/>
<circle cx="331.0" cy="304.0" r="13.7" fill="#060606"/>
<path d="M259.5,362.0 L289.8,353.7 Q321.0,339.4 329.2,319.4" fill="none" stroke="#d6d6d6" stroke-width="3.6" stroke-linecap="round" opacity="0.85"/>
<path d="M258.9,348.1 L286.3,340.7" fill="none" stroke="#6a6a6a" stroke-width="2" stroke-linecap="round" opacity="0.7"/>
<path d="M327.8,304.1 L324.5,315.6" stroke="#e8e8e8" stroke-width="3.6" stroke-linecap="round" opacity="0.8" fill="none"/>
<path d="M334.5,308.1 L332.5,314.9" stroke="#9a9a9a" stroke-width="2.4" stroke-linecap="round" opacity="0.8" fill="none"/>
<circle cx="257.6" cy="354.7" r="2.6" fill="#d8d8d8" opacity="0.75"/>
<path d="M422.1,317.5 L460.0,308.5 Q492.0,295.9 500.8,279.4 L504.0,270.0" fill="none" stroke="#060606" stroke-width="28" stroke-linejoin="round"/>
<circle cx="504.0" cy="270.0" r="13.7" fill="#060606"/>
<path d="M430.4,322.2 L461.5,314.9 Q493.5,302.2 501.9,284.3" fill="none" stroke="#d6d6d6" stroke-width="3.6" stroke-linecap="round" opacity="0.85"/>
<path d="M430.2,308.4 L458.4,301.7" fill="none" stroke="#6a6a6a" stroke-width="2" stroke-linecap="round" opacity="0.7"/>
<path d="M500.8,270.0 L497.0,281.3" stroke="#e8e8e8" stroke-width="3.6" stroke-linecap="round" opacity="0.8" fill="none"/>
<path d="M507.3,274.3 L505.0,280.9" stroke="#9a9a9a" stroke-width="2.4" stroke-linecap="round" opacity="0.8" fill="none"/>
<circle cx="428.6" cy="314.9" r="2.6" fill="#d8d8d8" opacity="0.75"/>
<path d="M585.1,280.6 L618.5,270.6 Q646.5,256.6 654.2,238.4 L657.0,228.0" fill="none" stroke="#060606" stroke-width="28" stroke-linejoin="round"/>
<circle cx="657.0" cy="228.0" r="13.7" fill="#060606"/>
<path d="M593.6,284.8 L620.4,276.9 Q648.4,262.8 655.6,243.2" fill="none" stroke="#d6d6d6" stroke-width="3.6" stroke-linecap="round" opacity="0.85"/>
<path d="M592.7,271.0 L616.5,263.9" fill="none" stroke="#6a6a6a" stroke-width="2" stroke-linecap="round" opacity="0.7"/>
<path d="M653.8,228.2 L650.7,239.8" stroke="#e8e8e8" stroke-width="3.6" stroke-linecap="round" opacity="0.8" fill="none"/>
<path d="M660.6,232.1 L658.7,238.8" stroke="#9a9a9a" stroke-width="2.4" stroke-linecap="round" opacity="0.8" fill="none"/>
<circle cx="591.5" cy="277.6" r="2.6" fill="#d8d8d8" opacity="0.75"/>
<path d="M741.1,234.5 L778.5,225.4 Q810.1,212.4 818.8,195.6 L822.0,186.0" fill="none" stroke="#060606" stroke-width="28" stroke-linejoin="round"/>
<circle cx="822.0" cy="186.0" r="13.7" fill="#060606"/>
<path d="M749.4,239.1 L780.1,231.7 Q811.7,218.7 820.0,200.5" fill="none" stroke="#d6d6d6" stroke-width="3.6" stroke-linecap="round" opacity="0.85"/>
<path d="M749.1,225.3 L776.9,218.6" fill="none" stroke="#6a6a6a" stroke-width="2" stroke-linecap="round" opacity="0.7"/>
<path d="M818.8,186.0 L815.1,197.4" stroke="#e8e8e8" stroke-width="3.6" stroke-linecap="round" opacity="0.8" fill="none"/>
<path d="M825.3,190.3 L823.1,196.9" stroke="#9a9a9a" stroke-width="2.4" stroke-linecap="round" opacity="0.8" fill="none"/>
<circle cx="747.6" cy="231.8" r="2.6" fill="#d8d8d8" opacity="0.75"/>
<path d="M913.1,201.5 L950.1,192.0 Q981.3,178.5 989.9,161.0 L993.0,151.0" fill="none" stroke="#060606" stroke-width="28" stroke-linejoin="round"/>
<circle cx="993.0" cy="151.0" r="13.7" fill="#060606"/>
<path d="M921.5,206.1 L951.7,198.3 Q982.9,184.8 991.1,165.8" fill="none" stroke="#d6d6d6" stroke-width="3.6" stroke-linecap="round" opacity="0.85"/>
<path d="M921.0,192.2 L948.4,185.2" fill="none" stroke="#6a6a6a" stroke-width="2" stroke-linecap="round" opacity="0.7"/>
<path d="M989.8,151.1 L986.3,162.5" stroke="#e8e8e8" stroke-width="3.6" stroke-linecap="round" opacity="0.8" fill="none"/>
<path d="M996.4,155.2 L994.3,161.9" stroke="#9a9a9a" stroke-width="2.4" stroke-linecap="round" opacity="0.8" fill="none"/>
<circle cx="919.6" cy="198.8" r="2.6" fill="#d8d8d8" opacity="0.75"/>
<path d="M1068.0,175.4 L1107.3,167.1 Q1140.5,155.2 1149.7,139.8 L1153.0,131.0" fill="none" stroke="#060606" stroke-width="28" stroke-linejoin="round"/>
<circle cx="1153.0" cy="131.0" r="13.7" fill="#060606"/>
<path d="M1076.2,180.3 L1108.7,173.4 Q1141.9,161.6 1150.7,144.7" fill="none" stroke="#d6d6d6" stroke-width="3.6" stroke-linecap="round" opacity="0.85"/>
<path d="M1076.4,166.5 L1105.9,160.2" fill="none" stroke="#6a6a6a" stroke-width="2" stroke-linecap="round" opacity="0.7"/>
<path d="M1149.8,130.9 L1145.6,142.1" stroke="#e8e8e8" stroke-width="3.6" stroke-linecap="round" opacity="0.8" fill="none"/>
<path d="M1156.2,135.4 L1153.7,141.9" stroke="#9a9a9a" stroke-width="2.4" stroke-linecap="round" opacity="0.8" fill="none"/>
<circle cx="1074.7" cy="173.0" r="2.6" fill="#d8d8d8" opacity="0.75"/>
<rect x="36.2" y="64.4" width="187.6" height="47.8" rx="23.9" fill="#587fa3"/>
<text x="70.7" y="104.0" font-size="46" fill="#fff" stroke="#fff" stroke-width="1.3" textLength="116.1" lengthAdjust="spacingAndGlyphs">Inner</text>
<rect x="951.8" y="811.5" width="187.4" height="47.6" rx="23.8" fill="#587fa3"/>
<text x="979.2" y="850" font-size="46" fill="#fff" stroke="#fff" stroke-width="1.3" textLength="130.1" lengthAdjust="spacingAndGlyphs">Outer</text>
<path d="M240,85 C290,70 345,82 375,118 L384,106 L405,152 L342,141 L357,133 C335,100 290,86 240,85 Z" fill="url(#ar1)"/>
<path d="M936,830 C900,829 862,822 845,812 Q830,803 821,795 L830.3,786 L768,782.7 L793,824.7 L802,819 C815,828 830,833 845,835.5 C865,840 900,843 936,830 Z" fill="url(#ar2)"/>
<text x="459.9" y="1109" font-size="35" fill="#fff" stroke="#fff" stroke-width="0.8" textLength="153.8" lengthAdjust="spacingAndGlyphs">Effective</text>
<text x="619.9" y="1109" font-size="35" fill="#fff" stroke="#fff" stroke-width="0.8" textLength="61.9" lengthAdjust="spacingAndGlyphs">and</text>
<text x="692.9" y="1109" font-size="35" fill="#fff" stroke="#fff" stroke-width="0.8" textLength="140.8" lengthAdjust="spacingAndGlyphs">discreet</text>
<text x="844.9" y="1109" font-size="35" fill="#fff" stroke="#fff" stroke-width="0.8" textLength="129.8" lengthAdjust="spacingAndGlyphs">design,</text>
<text x="980.9" y="1109" font-size="35" fill="#fff" stroke="#fff" stroke-width="0.8" textLength="67.8" lengthAdjust="spacingAndGlyphs">just</text>
<text x="1057.9" y="1109" font-size="35" fill="#fff" stroke="#fff" stroke-width="0.8" textLength="58.9" lengthAdjust="spacingAndGlyphs">like</text>
<text x="1129.9" y="1109" font-size="35" fill="#fff" stroke="#fff" stroke-width="0.8" textLength="19.9" lengthAdjust="spacingAndGlyphs">a</text>
<text x="459.9" y="1150" font-size="35" fill="#fff" stroke="#fff" stroke-width="0.8" textLength="124.8" lengthAdjust="spacingAndGlyphs">normal</text>
<text x="594.9" y="1150" font-size="35" fill="#fff" stroke="#fff" stroke-width="0.8" textLength="68.8" lengthAdjust="spacingAndGlyphs">dog</text>
<text x="670.9" y="1150" font-size="35" fill="#fff" stroke="#fff" stroke-width="0.8" textLength="110.8" lengthAdjust="spacingAndGlyphs">collar!</text>
<g transform="translate(270,1070) scale(0.15)"><path fill="#e7cd9c" fill-rule="evenodd" d="M95,290 A483,180 0 0 1 1060,290 L1060,388 A483,115 0 0 1 95,388 Z M170,258 A410,73 0 0 0 990,258 A410,73 0 0 0 170,258 Z"/><path d="M262,292 Q200,372 236,478" fill="none" stroke="#587fa3" stroke-width="27"/><path d="M95,400 L225,470 L225,520 L95,520 Z" fill="#587fa3"/><rect x="408" y="296" width="30" height="215" fill="#587fa3"/><rect x="720" y="296" width="32" height="215" fill="#587fa3"/><rect x="437" y="305" width="283" height="220" rx="42" fill="#e7cd9c"/><path d="M490,365 H620 V400 H525 V432 H620 V465 H490 Z" fill="#587fa3"/><circle cx="318" cy="400" r="22" fill="#587fa3"/><circle cx="825" cy="405" r="20" fill="#587fa3"/><circle cx="922" cy="380" r="20" fill="#587fa3"/><circle cx="1015" cy="345" r="19" fill="#587fa3"/></g>
</svg>
</body></html>
